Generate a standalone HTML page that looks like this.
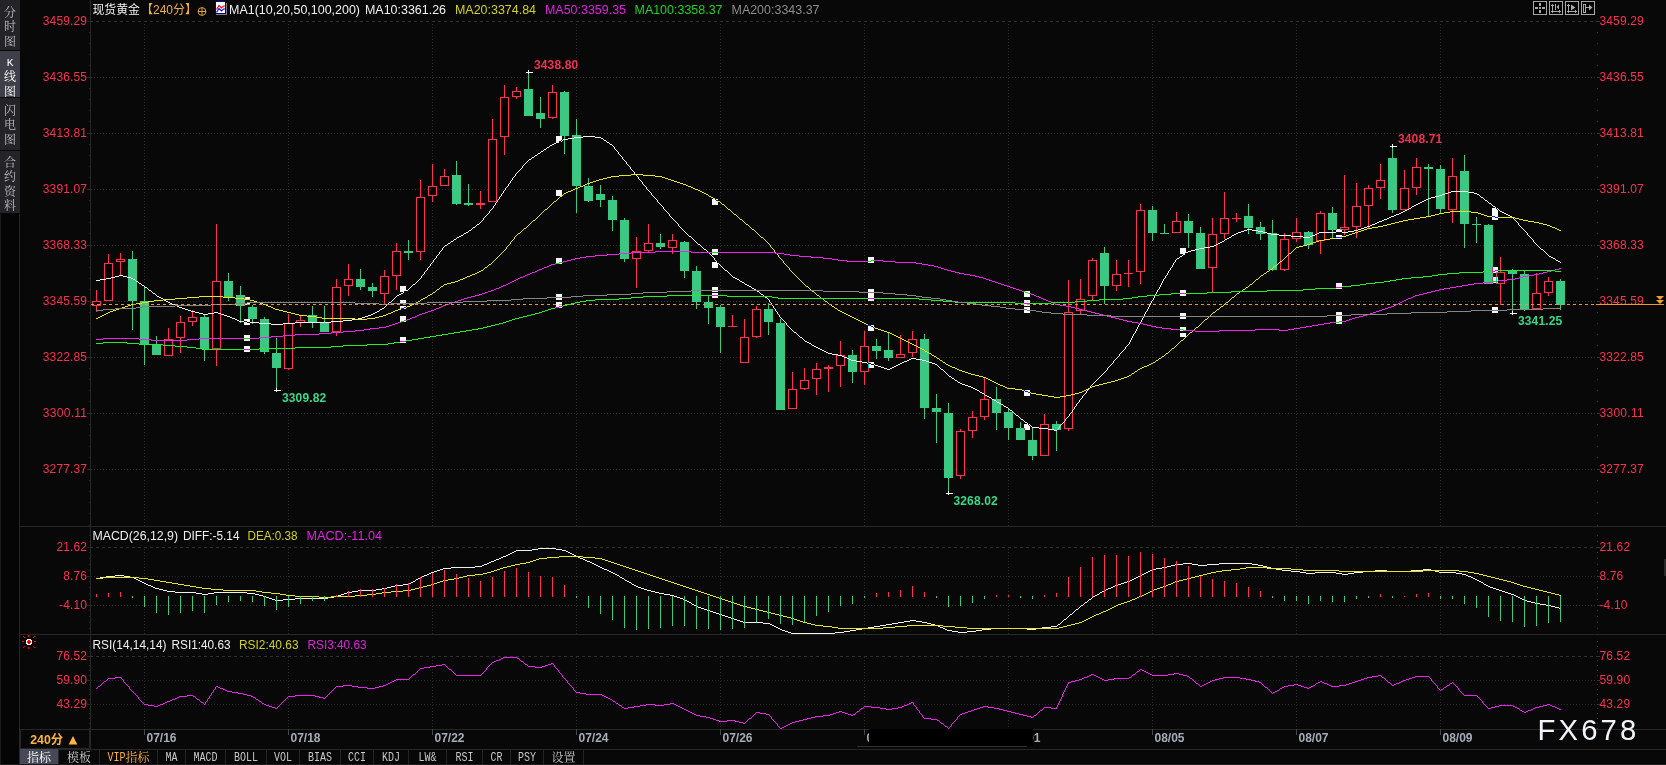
<!DOCTYPE html><html><head><meta charset="utf-8"><title>现货黄金 240分</title><style>
html,body{margin:0;padding:0;background:#080808;}
body{width:1666px;height:765px;overflow:hidden;position:relative;font-family:"Liberation Sans","Noto Sans CJK SC",sans-serif;}
svg{position:absolute;left:0;top:0;}
.ax{font:12px "Liberation Sans",sans-serif;fill:#fa3250;}
.t{font:12px "Liberation Sans","Noto Sans CJK SC",sans-serif;}
.b{font:bold 12px "Liberation Sans","Noto Sans CJK SC",sans-serif;}
.sb{position:absolute;left:0;width:20px;text-align:center;font:12px/14.3px "Liberation Serif","Noto Serif CJK SC",serif;color:#bcbcbc;background:#242428;}
.tb{position:absolute;top:749px;height:15px;font:12px/20px "Liberation Mono","Noto Serif CJK SC",monospace;color:#c8c8c8;text-align:center;white-space:nowrap;border-right:1px solid #242424;box-sizing:border-box;overflow:hidden;}
.tb span{display:inline-block;vertical-align:top;}
.tb .l{font-size:10px;transform:scaleY(1.22);transform-origin:50% 58%;}
</style></head><body>
<div class="sb" style="top:0;height:50px;padding-top:6px;box-sizing:border-box">分<br>时<br>图</div>
<div class="sb" style="top:51px;height:46px;padding-top:4px;box-sizing:border-box;background:#3f3f49;color:#fff"><span style="font:11px/14.3px 'Liberation Mono',monospace">K</span><br>线<br>图</div>
<div class="sb" style="top:98px;height:52px;padding-top:6px;box-sizing:border-box">闪<br>电<br>图</div>
<div class="sb" style="top:151px;height:62px;padding-top:5px;box-sizing:border-box">合<br>约<br>资<br>料</div>
<svg width="1666" height="765" viewBox="0 0 1666 765">
<g shape-rendering="crispEdges" fill="none">
<rect x="0" y="214" width="19" height="551" fill="#050505"/><rect x="0" y="214" width="1" height="551" fill="#1c1c1c"/>
<line x1="19.5" y1="214" x2="19.5" y2="765" stroke="#272727"/>
<line x1="90.5" y1="0" x2="90.5" y2="749" stroke="#272727"/>
<line x1="20" y1="526.5" x2="1666" y2="526.5" stroke="#272727"/>
<line x1="20" y1="634.5" x2="1666" y2="634.5" stroke="#272727"/>
<line x1="20" y1="729.5" x2="1666" y2="729.5" stroke="#272727"/>
<line x1="20" y1="749.5" x2="1666" y2="749.5" stroke="#272727"/>
<line x1="0" y1="764.5" x2="1666" y2="764.5" stroke="#1c1c1c"/>
<line x1="90" y1="21.5" x2="1597" y2="21.5" stroke="#303030" stroke-dasharray="3 3"/>
<line x1="91" y1="77.5" x2="1597" y2="77.5" stroke="#2a2a2a" stroke-dasharray="1 2"/>
<line x1="91" y1="133.5" x2="1597" y2="133.5" stroke="#2a2a2a" stroke-dasharray="1 2"/>
<line x1="91" y1="189.5" x2="1597" y2="189.5" stroke="#2a2a2a" stroke-dasharray="1 2"/>
<line x1="91" y1="245.5" x2="1597" y2="245.5" stroke="#2a2a2a" stroke-dasharray="1 2"/>
<line x1="91" y1="301.5" x2="1597" y2="301.5" stroke="#2a2a2a" stroke-dasharray="1 2"/>
<line x1="91" y1="357.5" x2="1597" y2="357.5" stroke="#2a2a2a" stroke-dasharray="1 2"/>
<line x1="91" y1="413.5" x2="1597" y2="413.5" stroke="#2a2a2a" stroke-dasharray="1 2"/>
<line x1="91" y1="469.5" x2="1597" y2="469.5" stroke="#2a2a2a" stroke-dasharray="1 2"/>
<line x1="90" y1="547.5" x2="1597" y2="547.5" stroke="#303030" stroke-dasharray="3 3"/>
<line x1="91" y1="576.5" x2="1597" y2="576.5" stroke="#2a2a2a" stroke-dasharray="1 2"/>
<line x1="91" y1="605.5" x2="1597" y2="605.5" stroke="#2a2a2a" stroke-dasharray="1 2"/>
<line x1="90" y1="656.5" x2="1597" y2="656.5" stroke="#303030" stroke-dasharray="3 3"/>
<line x1="91" y1="680.5" x2="1597" y2="680.5" stroke="#2a2a2a" stroke-dasharray="1 2"/>
<line x1="91" y1="704.5" x2="1597" y2="704.5" stroke="#2a2a2a" stroke-dasharray="1 2"/>
<line x1="144.5" y1="21" x2="144.5" y2="526" stroke="#2a2a2a" stroke-dasharray="1 2"/>
<line x1="144.5" y1="549" x2="144.5" y2="634" stroke="#2a2a2a" stroke-dasharray="1 2"/>
<line x1="144.5" y1="657" x2="144.5" y2="729" stroke="#2a2a2a" stroke-dasharray="1 2"/>
<line x1="144.5" y1="729" x2="144.5" y2="735" stroke="#444"/>
<line x1="288.5" y1="21" x2="288.5" y2="526" stroke="#2a2a2a" stroke-dasharray="1 2"/>
<line x1="288.5" y1="549" x2="288.5" y2="634" stroke="#2a2a2a" stroke-dasharray="1 2"/>
<line x1="288.5" y1="657" x2="288.5" y2="729" stroke="#2a2a2a" stroke-dasharray="1 2"/>
<line x1="288.5" y1="729" x2="288.5" y2="735" stroke="#444"/>
<line x1="432.5" y1="21" x2="432.5" y2="526" stroke="#2a2a2a" stroke-dasharray="1 2"/>
<line x1="432.5" y1="549" x2="432.5" y2="634" stroke="#2a2a2a" stroke-dasharray="1 2"/>
<line x1="432.5" y1="657" x2="432.5" y2="729" stroke="#2a2a2a" stroke-dasharray="1 2"/>
<line x1="432.5" y1="729" x2="432.5" y2="735" stroke="#444"/>
<line x1="576.5" y1="21" x2="576.5" y2="526" stroke="#2a2a2a" stroke-dasharray="1 2"/>
<line x1="576.5" y1="549" x2="576.5" y2="634" stroke="#2a2a2a" stroke-dasharray="1 2"/>
<line x1="576.5" y1="657" x2="576.5" y2="729" stroke="#2a2a2a" stroke-dasharray="1 2"/>
<line x1="576.5" y1="729" x2="576.5" y2="735" stroke="#444"/>
<line x1="720.5" y1="21" x2="720.5" y2="526" stroke="#2a2a2a" stroke-dasharray="1 2"/>
<line x1="720.5" y1="549" x2="720.5" y2="634" stroke="#2a2a2a" stroke-dasharray="1 2"/>
<line x1="720.5" y1="657" x2="720.5" y2="729" stroke="#2a2a2a" stroke-dasharray="1 2"/>
<line x1="720.5" y1="729" x2="720.5" y2="735" stroke="#444"/>
<line x1="864.5" y1="21" x2="864.5" y2="526" stroke="#2a2a2a" stroke-dasharray="1 2"/>
<line x1="864.5" y1="549" x2="864.5" y2="634" stroke="#2a2a2a" stroke-dasharray="1 2"/>
<line x1="864.5" y1="657" x2="864.5" y2="729" stroke="#2a2a2a" stroke-dasharray="1 2"/>
<line x1="864.5" y1="729" x2="864.5" y2="735" stroke="#444"/>
<line x1="1008.5" y1="21" x2="1008.5" y2="526" stroke="#2a2a2a" stroke-dasharray="1 2"/>
<line x1="1008.5" y1="549" x2="1008.5" y2="634" stroke="#2a2a2a" stroke-dasharray="1 2"/>
<line x1="1008.5" y1="657" x2="1008.5" y2="729" stroke="#2a2a2a" stroke-dasharray="1 2"/>
<line x1="1008.5" y1="729" x2="1008.5" y2="735" stroke="#444"/>
<line x1="1152.5" y1="21" x2="1152.5" y2="526" stroke="#2a2a2a" stroke-dasharray="1 2"/>
<line x1="1152.5" y1="549" x2="1152.5" y2="634" stroke="#2a2a2a" stroke-dasharray="1 2"/>
<line x1="1152.5" y1="657" x2="1152.5" y2="729" stroke="#2a2a2a" stroke-dasharray="1 2"/>
<line x1="1152.5" y1="729" x2="1152.5" y2="735" stroke="#444"/>
<line x1="1296.5" y1="21" x2="1296.5" y2="526" stroke="#2a2a2a" stroke-dasharray="1 2"/>
<line x1="1296.5" y1="549" x2="1296.5" y2="634" stroke="#2a2a2a" stroke-dasharray="1 2"/>
<line x1="1296.5" y1="657" x2="1296.5" y2="729" stroke="#2a2a2a" stroke-dasharray="1 2"/>
<line x1="1296.5" y1="729" x2="1296.5" y2="735" stroke="#444"/>
<line x1="1440.5" y1="21" x2="1440.5" y2="526" stroke="#2a2a2a" stroke-dasharray="1 2"/>
<line x1="1440.5" y1="549" x2="1440.5" y2="634" stroke="#2a2a2a" stroke-dasharray="1 2"/>
<line x1="1440.5" y1="657" x2="1440.5" y2="729" stroke="#2a2a2a" stroke-dasharray="1 2"/>
<line x1="1440.5" y1="729" x2="1440.5" y2="735" stroke="#444"/>
<rect x="89" y="32" width="1" height="1" fill="#272727"/>
<rect x="1597" y="32" width="1" height="1" fill="#343434"/>
<rect x="89" y="43" width="1" height="1" fill="#272727"/>
<rect x="1597" y="43" width="1" height="1" fill="#343434"/>
<rect x="89" y="54" width="1" height="1" fill="#272727"/>
<rect x="1597" y="54" width="1" height="1" fill="#343434"/>
<rect x="89" y="65" width="1" height="1" fill="#272727"/>
<rect x="1597" y="65" width="1" height="1" fill="#343434"/>
<rect x="89" y="88" width="1" height="1" fill="#272727"/>
<rect x="1597" y="88" width="1" height="1" fill="#343434"/>
<rect x="89" y="99" width="1" height="1" fill="#272727"/>
<rect x="1597" y="99" width="1" height="1" fill="#343434"/>
<rect x="89" y="110" width="1" height="1" fill="#272727"/>
<rect x="1597" y="110" width="1" height="1" fill="#343434"/>
<rect x="89" y="121" width="1" height="1" fill="#272727"/>
<rect x="1597" y="121" width="1" height="1" fill="#343434"/>
<rect x="89" y="144" width="1" height="1" fill="#272727"/>
<rect x="1597" y="144" width="1" height="1" fill="#343434"/>
<rect x="89" y="155" width="1" height="1" fill="#272727"/>
<rect x="1597" y="155" width="1" height="1" fill="#343434"/>
<rect x="89" y="166" width="1" height="1" fill="#272727"/>
<rect x="1597" y="166" width="1" height="1" fill="#343434"/>
<rect x="89" y="177" width="1" height="1" fill="#272727"/>
<rect x="1597" y="177" width="1" height="1" fill="#343434"/>
<rect x="89" y="200" width="1" height="1" fill="#272727"/>
<rect x="1597" y="200" width="1" height="1" fill="#343434"/>
<rect x="89" y="211" width="1" height="1" fill="#272727"/>
<rect x="1597" y="211" width="1" height="1" fill="#343434"/>
<rect x="89" y="222" width="1" height="1" fill="#272727"/>
<rect x="1597" y="222" width="1" height="1" fill="#343434"/>
<rect x="89" y="233" width="1" height="1" fill="#272727"/>
<rect x="1597" y="233" width="1" height="1" fill="#343434"/>
<rect x="89" y="256" width="1" height="1" fill="#272727"/>
<rect x="1597" y="256" width="1" height="1" fill="#343434"/>
<rect x="89" y="267" width="1" height="1" fill="#272727"/>
<rect x="1597" y="267" width="1" height="1" fill="#343434"/>
<rect x="89" y="278" width="1" height="1" fill="#272727"/>
<rect x="1597" y="278" width="1" height="1" fill="#343434"/>
<rect x="89" y="289" width="1" height="1" fill="#272727"/>
<rect x="1597" y="289" width="1" height="1" fill="#343434"/>
<rect x="89" y="312" width="1" height="1" fill="#272727"/>
<rect x="1597" y="312" width="1" height="1" fill="#343434"/>
<rect x="89" y="323" width="1" height="1" fill="#272727"/>
<rect x="1597" y="323" width="1" height="1" fill="#343434"/>
<rect x="89" y="334" width="1" height="1" fill="#272727"/>
<rect x="1597" y="334" width="1" height="1" fill="#343434"/>
<rect x="89" y="345" width="1" height="1" fill="#272727"/>
<rect x="1597" y="345" width="1" height="1" fill="#343434"/>
<rect x="89" y="368" width="1" height="1" fill="#272727"/>
<rect x="1597" y="368" width="1" height="1" fill="#343434"/>
<rect x="89" y="379" width="1" height="1" fill="#272727"/>
<rect x="1597" y="379" width="1" height="1" fill="#343434"/>
<rect x="89" y="390" width="1" height="1" fill="#272727"/>
<rect x="1597" y="390" width="1" height="1" fill="#343434"/>
<rect x="89" y="401" width="1" height="1" fill="#272727"/>
<rect x="1597" y="401" width="1" height="1" fill="#343434"/>
<rect x="89" y="424" width="1" height="1" fill="#272727"/>
<rect x="1597" y="424" width="1" height="1" fill="#343434"/>
<rect x="89" y="435" width="1" height="1" fill="#272727"/>
<rect x="1597" y="435" width="1" height="1" fill="#343434"/>
<rect x="89" y="446" width="1" height="1" fill="#272727"/>
<rect x="1597" y="446" width="1" height="1" fill="#343434"/>
<rect x="89" y="457" width="1" height="1" fill="#272727"/>
<rect x="1597" y="457" width="1" height="1" fill="#343434"/>
<rect x="89" y="480" width="1" height="1" fill="#272727"/>
<rect x="1597" y="480" width="1" height="1" fill="#343434"/>
<rect x="89" y="491" width="1" height="1" fill="#272727"/>
<rect x="1597" y="491" width="1" height="1" fill="#343434"/>
<rect x="89" y="502" width="1" height="1" fill="#272727"/>
<rect x="1597" y="502" width="1" height="1" fill="#343434"/>
<rect x="89" y="513" width="1" height="1" fill="#272727"/>
<rect x="1597" y="513" width="1" height="1" fill="#343434"/>
<rect x="89" y="525" width="1" height="1" fill="#272727"/>
<rect x="1597" y="525" width="1" height="1" fill="#343434"/>
<rect x="87" y="21" width="3" height="1" fill="#272727"/>
<rect x="1597" y="21" width="3" height="1" fill="#343434"/>
<rect x="87" y="77" width="3" height="1" fill="#272727"/>
<rect x="1597" y="77" width="3" height="1" fill="#343434"/>
<rect x="87" y="133" width="3" height="1" fill="#272727"/>
<rect x="1597" y="133" width="3" height="1" fill="#343434"/>
<rect x="87" y="189" width="3" height="1" fill="#272727"/>
<rect x="1597" y="189" width="3" height="1" fill="#343434"/>
<rect x="87" y="245" width="3" height="1" fill="#272727"/>
<rect x="1597" y="245" width="3" height="1" fill="#343434"/>
<rect x="87" y="301" width="3" height="1" fill="#272727"/>
<rect x="1597" y="301" width="3" height="1" fill="#343434"/>
<rect x="87" y="357" width="3" height="1" fill="#272727"/>
<rect x="1597" y="357" width="3" height="1" fill="#343434"/>
<rect x="87" y="413" width="3" height="1" fill="#272727"/>
<rect x="1597" y="413" width="3" height="1" fill="#343434"/>
<rect x="87" y="469" width="3" height="1" fill="#272727"/>
<rect x="1597" y="469" width="3" height="1" fill="#343434"/>
<rect x="89" y="535" width="1" height="1" fill="#272727"/>
<rect x="1597" y="535" width="1" height="1" fill="#343434"/>
<rect x="89" y="541" width="1" height="1" fill="#272727"/>
<rect x="1597" y="541" width="1" height="1" fill="#343434"/>
<rect x="89" y="552" width="1" height="1" fill="#272727"/>
<rect x="1597" y="552" width="1" height="1" fill="#343434"/>
<rect x="89" y="558" width="1" height="1" fill="#272727"/>
<rect x="1597" y="558" width="1" height="1" fill="#343434"/>
<rect x="89" y="564" width="1" height="1" fill="#272727"/>
<rect x="1597" y="564" width="1" height="1" fill="#343434"/>
<rect x="89" y="570" width="1" height="1" fill="#272727"/>
<rect x="1597" y="570" width="1" height="1" fill="#343434"/>
<rect x="89" y="581" width="1" height="1" fill="#272727"/>
<rect x="1597" y="581" width="1" height="1" fill="#343434"/>
<rect x="89" y="587" width="1" height="1" fill="#272727"/>
<rect x="1597" y="587" width="1" height="1" fill="#343434"/>
<rect x="89" y="593" width="1" height="1" fill="#272727"/>
<rect x="1597" y="593" width="1" height="1" fill="#343434"/>
<rect x="89" y="599" width="1" height="1" fill="#272727"/>
<rect x="1597" y="599" width="1" height="1" fill="#343434"/>
<rect x="89" y="610" width="1" height="1" fill="#272727"/>
<rect x="1597" y="610" width="1" height="1" fill="#343434"/>
<rect x="89" y="616" width="1" height="1" fill="#272727"/>
<rect x="1597" y="616" width="1" height="1" fill="#343434"/>
<rect x="89" y="622" width="1" height="1" fill="#272727"/>
<rect x="1597" y="622" width="1" height="1" fill="#343434"/>
<rect x="89" y="628" width="1" height="1" fill="#272727"/>
<rect x="1597" y="628" width="1" height="1" fill="#343434"/>
<rect x="89" y="634" width="1" height="1" fill="#272727"/>
<rect x="1597" y="634" width="1" height="1" fill="#343434"/>
<rect x="87" y="547" width="3" height="1" fill="#272727"/>
<rect x="1597" y="547" width="3" height="1" fill="#343434"/>
<rect x="87" y="576" width="3" height="1" fill="#272727"/>
<rect x="1597" y="576" width="3" height="1" fill="#343434"/>
<rect x="87" y="605" width="3" height="1" fill="#272727"/>
<rect x="1597" y="605" width="3" height="1" fill="#343434"/>
<rect x="89" y="641" width="1" height="1" fill="#272727"/>
<rect x="1597" y="641" width="1" height="1" fill="#343434"/>
<rect x="89" y="646" width="1" height="1" fill="#272727"/>
<rect x="1597" y="646" width="1" height="1" fill="#343434"/>
<rect x="89" y="651" width="1" height="1" fill="#272727"/>
<rect x="1597" y="651" width="1" height="1" fill="#343434"/>
<rect x="89" y="660" width="1" height="1" fill="#272727"/>
<rect x="1597" y="660" width="1" height="1" fill="#343434"/>
<rect x="89" y="665" width="1" height="1" fill="#272727"/>
<rect x="1597" y="665" width="1" height="1" fill="#343434"/>
<rect x="89" y="670" width="1" height="1" fill="#272727"/>
<rect x="1597" y="670" width="1" height="1" fill="#343434"/>
<rect x="89" y="675" width="1" height="1" fill="#272727"/>
<rect x="1597" y="675" width="1" height="1" fill="#343434"/>
<rect x="89" y="684" width="1" height="1" fill="#272727"/>
<rect x="1597" y="684" width="1" height="1" fill="#343434"/>
<rect x="89" y="689" width="1" height="1" fill="#272727"/>
<rect x="1597" y="689" width="1" height="1" fill="#343434"/>
<rect x="89" y="694" width="1" height="1" fill="#272727"/>
<rect x="1597" y="694" width="1" height="1" fill="#343434"/>
<rect x="89" y="699" width="1" height="1" fill="#272727"/>
<rect x="1597" y="699" width="1" height="1" fill="#343434"/>
<rect x="89" y="708" width="1" height="1" fill="#272727"/>
<rect x="1597" y="708" width="1" height="1" fill="#343434"/>
<rect x="89" y="713" width="1" height="1" fill="#272727"/>
<rect x="1597" y="713" width="1" height="1" fill="#343434"/>
<rect x="89" y="718" width="1" height="1" fill="#272727"/>
<rect x="1597" y="718" width="1" height="1" fill="#343434"/>
<rect x="89" y="723" width="1" height="1" fill="#272727"/>
<rect x="1597" y="723" width="1" height="1" fill="#343434"/>
<rect x="89" y="728" width="1" height="1" fill="#272727"/>
<rect x="1597" y="728" width="1" height="1" fill="#343434"/>
<rect x="87" y="656" width="3" height="1" fill="#272727"/>
<rect x="1597" y="656" width="3" height="1" fill="#343434"/>
<rect x="87" y="680" width="3" height="1" fill="#272727"/>
<rect x="1597" y="680" width="3" height="1" fill="#343434"/>
<rect x="87" y="704" width="3" height="1" fill="#272727"/>
<rect x="1597" y="704" width="3" height="1" fill="#343434"/>
</g>
<text class="ax" x="87" y="24.7" text-anchor="end" textLength="44.2">3459.29</text>
<text class="ax" x="1599.5" y="24.7" textLength="44.2">3459.29</text>
<text class="ax" x="87" y="80.7" text-anchor="end" textLength="44.2">3436.55</text>
<text class="ax" x="1599.5" y="80.7" textLength="44.2">3436.55</text>
<text class="ax" x="87" y="136.7" text-anchor="end" textLength="44.2">3413.81</text>
<text class="ax" x="1599.5" y="136.7" textLength="44.2">3413.81</text>
<text class="ax" x="87" y="192.7" text-anchor="end" textLength="44.2">3391.07</text>
<text class="ax" x="1599.5" y="192.7" textLength="44.2">3391.07</text>
<text class="ax" x="87" y="248.7" text-anchor="end" textLength="44.2">3368.33</text>
<text class="ax" x="1599.5" y="248.7" textLength="44.2">3368.33</text>
<text class="ax" x="87" y="304.7" text-anchor="end" textLength="44.2">3345.59</text>
<text class="ax" x="1599.5" y="304.7" textLength="44.2">3345.59</text>
<text class="ax" x="87" y="360.7" text-anchor="end" textLength="44.2">3322.85</text>
<text class="ax" x="1599.5" y="360.7" textLength="44.2">3322.85</text>
<text class="ax" x="87" y="416.7" text-anchor="end" textLength="44.2">3300.11</text>
<text class="ax" x="1599.5" y="416.7" textLength="44.2">3300.11</text>
<text class="ax" x="87" y="472.7" text-anchor="end" textLength="44.2">3277.37</text>
<text class="ax" x="1599.5" y="472.7" textLength="44.2">3277.37</text>
<text class="ax" x="87" y="550.7" text-anchor="end" textLength="30.6">21.62</text>
<text class="ax" x="1599.5" y="550.7" textLength="30.6">21.62</text>
<text class="ax" x="87" y="579.7" text-anchor="end" textLength="23.8">8.76</text>
<text class="ax" x="1599.5" y="579.7" textLength="23.8">8.76</text>
<text class="ax" x="87" y="608.7" text-anchor="end" textLength="27.9">-4.10</text>
<text class="ax" x="1599.5" y="608.7" textLength="27.9">-4.10</text>
<text class="ax" x="87" y="659.7" text-anchor="end" textLength="30.6">76.52</text>
<text class="ax" x="1599.5" y="659.7" textLength="30.6">76.52</text>
<text class="ax" x="87" y="683.7" text-anchor="end" textLength="30.6">59.90</text>
<text class="ax" x="1599.5" y="683.7" textLength="30.6">59.90</text>
<text class="ax" x="87" y="707.7" text-anchor="end" textLength="30.6">43.29</text>
<text class="ax" x="1599.5" y="707.7" textLength="30.6">43.29</text>
<g shape-rendering="crispEdges">
<rect x="96" y="290" width="1" height="11" fill="#ff3250"/>
<rect x="96" y="306" width="1" height="6" fill="#ff3250"/>
<rect x="92.5" y="301.5" width="8" height="4" fill="#000" stroke="#ff3250"/>
<rect x="108" y="254" width="1" height="9" fill="#ff3250"/>
<rect x="104.5" y="263.5" width="8" height="37" fill="#000" stroke="#ff3250"/>
<rect x="120" y="253" width="1" height="6" fill="#ff3250"/>
<rect x="120" y="262" width="1" height="13" fill="#ff3250"/>
<rect x="116.5" y="259.5" width="8" height="2" fill="#000" stroke="#ff3250"/>
<rect x="132" y="251" width="1" height="79" fill="#3ac882"/>
<rect x="128" y="259" width="9" height="42" fill="#3ac882"/>
<rect x="144" y="287" width="1" height="78" fill="#3ac882"/>
<rect x="140" y="301" width="9" height="44" fill="#3ac882"/>
<rect x="156" y="336" width="1" height="19" fill="#3ac882"/>
<rect x="152" y="345" width="9" height="10" fill="#3ac882"/>
<rect x="168" y="328" width="1" height="11" fill="#ff3250"/>
<rect x="164.5" y="339.5" width="8" height="16" fill="#000" stroke="#ff3250"/>
<rect x="180" y="316" width="1" height="6" fill="#ff3250"/>
<rect x="180" y="338" width="1" height="15" fill="#ff3250"/>
<rect x="176.5" y="322.5" width="8" height="15" fill="#000" stroke="#ff3250"/>
<rect x="192" y="310" width="1" height="7" fill="#ff3250"/>
<rect x="192" y="322" width="1" height="4" fill="#ff3250"/>
<rect x="188.5" y="317.5" width="8" height="4" fill="#000" stroke="#ff3250"/>
<rect x="204" y="314" width="1" height="47" fill="#3ac882"/>
<rect x="200" y="317" width="9" height="32" fill="#3ac882"/>
<rect x="216" y="224" width="1" height="57" fill="#ff3250"/>
<rect x="216" y="349" width="1" height="17" fill="#ff3250"/>
<rect x="212.5" y="281.5" width="8" height="67" fill="#000" stroke="#ff3250"/>
<rect x="228" y="273" width="1" height="28" fill="#3ac882"/>
<rect x="224" y="281" width="9" height="17" fill="#3ac882"/>
<rect x="240" y="286" width="1" height="37" fill="#3ac882"/>
<rect x="236" y="295" width="9" height="11" fill="#3ac882"/>
<rect x="252" y="305" width="1" height="19" fill="#3ac882"/>
<rect x="248" y="307" width="9" height="12" fill="#3ac882"/>
<rect x="264" y="317" width="1" height="37" fill="#3ac882"/>
<rect x="260" y="319" width="9" height="33" fill="#3ac882"/>
<rect x="276" y="338" width="1" height="52" fill="#3ac882"/>
<rect x="272" y="353" width="9" height="15" fill="#3ac882"/>
<rect x="288" y="314" width="1" height="9" fill="#ff3250"/>
<rect x="288" y="369" width="1" height="1" fill="#ff3250"/>
<rect x="284.5" y="323.5" width="8" height="45" fill="#000" stroke="#ff3250"/>
<rect x="300" y="315" width="1" height="5" fill="#ff3250"/>
<rect x="300" y="323" width="1" height="4" fill="#ff3250"/>
<rect x="296.5" y="320.5" width="8" height="2" fill="#000" stroke="#ff3250"/>
<rect x="312" y="306" width="1" height="22" fill="#3ac882"/>
<rect x="308" y="315" width="9" height="8" fill="#3ac882"/>
<rect x="324" y="306" width="1" height="26" fill="#3ac882"/>
<rect x="320" y="323" width="9" height="9" fill="#3ac882"/>
<rect x="336" y="279" width="1" height="8" fill="#ff3250"/>
<rect x="336" y="332" width="1" height="4" fill="#ff3250"/>
<rect x="332.5" y="287.5" width="8" height="44" fill="#000" stroke="#ff3250"/>
<rect x="348" y="264" width="1" height="15" fill="#ff3250"/>
<rect x="348" y="286" width="1" height="10" fill="#ff3250"/>
<rect x="344.5" y="279.5" width="8" height="6" fill="#000" stroke="#ff3250"/>
<rect x="360" y="269" width="1" height="21" fill="#3ac882"/>
<rect x="356" y="279" width="9" height="8" fill="#3ac882"/>
<rect x="372" y="283" width="1" height="14" fill="#3ac882"/>
<rect x="368" y="287" width="9" height="4" fill="#3ac882"/>
<rect x="384" y="270" width="1" height="6" fill="#ff3250"/>
<rect x="384" y="294" width="1" height="10" fill="#ff3250"/>
<rect x="380.5" y="276.5" width="8" height="17" fill="#000" stroke="#ff3250"/>
<rect x="396" y="243" width="1" height="8" fill="#ff3250"/>
<rect x="396" y="276" width="1" height="14" fill="#ff3250"/>
<rect x="392.5" y="251.5" width="8" height="24" fill="#000" stroke="#ff3250"/>
<rect x="408" y="240" width="1" height="20" fill="#3ac882"/>
<rect x="404" y="251" width="9" height="2" fill="#3ac882"/>
<rect x="420" y="180" width="1" height="17" fill="#ff3250"/>
<rect x="420" y="252" width="1" height="8" fill="#ff3250"/>
<rect x="416.5" y="197.5" width="8" height="54" fill="#000" stroke="#ff3250"/>
<rect x="432" y="164" width="1" height="22" fill="#ff3250"/>
<rect x="432" y="196" width="1" height="6" fill="#ff3250"/>
<rect x="428.5" y="186.5" width="8" height="9" fill="#000" stroke="#ff3250"/>
<rect x="444" y="169" width="1" height="7" fill="#ff3250"/>
<rect x="440.5" y="176.5" width="8" height="9" fill="#000" stroke="#ff3250"/>
<rect x="456" y="161" width="1" height="44" fill="#3ac882"/>
<rect x="452" y="175" width="9" height="29" fill="#3ac882"/>
<rect x="468" y="184" width="1" height="22" fill="#3ac882"/>
<rect x="464" y="203" width="9" height="2" fill="#3ac882"/>
<rect x="480" y="191" width="1" height="12" fill="#ff3250"/>
<rect x="480" y="205" width="1" height="4" fill="#ff3250"/>
<rect x="476" y="203" width="9" height="2" fill="#ff3250"/>
<rect x="492" y="119" width="1" height="20" fill="#ff3250"/>
<rect x="488.5" y="139.5" width="8" height="62" fill="#000" stroke="#ff3250"/>
<rect x="504" y="85" width="1" height="12" fill="#ff3250"/>
<rect x="504" y="137" width="1" height="18" fill="#ff3250"/>
<rect x="500.5" y="97.5" width="8" height="39" fill="#000" stroke="#ff3250"/>
<rect x="516" y="87" width="1" height="4" fill="#ff3250"/>
<rect x="516" y="97" width="1" height="2" fill="#ff3250"/>
<rect x="512.5" y="91.5" width="8" height="5" fill="#000" stroke="#ff3250"/>
<rect x="528" y="72" width="1" height="44" fill="#3ac882"/>
<rect x="524" y="89" width="9" height="27" fill="#3ac882"/>
<rect x="540" y="97" width="1" height="31" fill="#3ac882"/>
<rect x="536" y="113" width="9" height="6" fill="#3ac882"/>
<rect x="552" y="85" width="1" height="7" fill="#ff3250"/>
<rect x="552" y="118" width="1" height="1" fill="#ff3250"/>
<rect x="548.5" y="92.5" width="8" height="25" fill="#000" stroke="#ff3250"/>
<rect x="564" y="91" width="1" height="63" fill="#3ac882"/>
<rect x="560" y="92" width="9" height="44" fill="#3ac882"/>
<rect x="576" y="119" width="1" height="94" fill="#3ac882"/>
<rect x="572" y="135" width="9" height="51" fill="#3ac882"/>
<rect x="588" y="178" width="1" height="24" fill="#3ac882"/>
<rect x="584" y="186" width="9" height="15" fill="#3ac882"/>
<rect x="600" y="185" width="1" height="22" fill="#3ac882"/>
<rect x="596" y="194" width="9" height="6" fill="#3ac882"/>
<rect x="612" y="196" width="1" height="35" fill="#3ac882"/>
<rect x="608" y="200" width="9" height="20" fill="#3ac882"/>
<rect x="624" y="218" width="1" height="44" fill="#3ac882"/>
<rect x="620" y="220" width="9" height="39" fill="#3ac882"/>
<rect x="636" y="237" width="1" height="14" fill="#ff3250"/>
<rect x="636" y="259" width="1" height="29" fill="#ff3250"/>
<rect x="632.5" y="251.5" width="8" height="7" fill="#000" stroke="#ff3250"/>
<rect x="648" y="224" width="1" height="19" fill="#ff3250"/>
<rect x="648" y="251" width="1" height="2" fill="#ff3250"/>
<rect x="644.5" y="243.5" width="8" height="7" fill="#000" stroke="#ff3250"/>
<rect x="660" y="234" width="1" height="15" fill="#3ac882"/>
<rect x="656" y="243" width="9" height="4" fill="#3ac882"/>
<rect x="672" y="234" width="1" height="6" fill="#ff3250"/>
<rect x="672" y="248" width="1" height="6" fill="#ff3250"/>
<rect x="668.5" y="240.5" width="8" height="7" fill="#000" stroke="#ff3250"/>
<rect x="684" y="241" width="1" height="37" fill="#3ac882"/>
<rect x="680" y="242" width="9" height="29" fill="#3ac882"/>
<rect x="696" y="266" width="1" height="43" fill="#3ac882"/>
<rect x="692" y="271" width="9" height="31" fill="#3ac882"/>
<rect x="708" y="296" width="1" height="28" fill="#3ac882"/>
<rect x="704" y="302" width="9" height="6" fill="#3ac882"/>
<rect x="720" y="305" width="1" height="48" fill="#3ac882"/>
<rect x="716" y="307" width="9" height="20" fill="#3ac882"/>
<rect x="732" y="315" width="1" height="11" fill="#ff3250"/>
<rect x="728" y="326" width="9" height="1" fill="#ff3250"/>
<rect x="744" y="319" width="1" height="18" fill="#ff3250"/>
<rect x="740.5" y="337.5" width="8" height="25" fill="#000" stroke="#ff3250"/>
<rect x="756" y="306" width="1" height="3" fill="#ff3250"/>
<rect x="756" y="337" width="1" height="1" fill="#ff3250"/>
<rect x="752.5" y="309.5" width="8" height="27" fill="#000" stroke="#ff3250"/>
<rect x="768" y="303" width="1" height="32" fill="#3ac882"/>
<rect x="764" y="309" width="9" height="13" fill="#3ac882"/>
<rect x="780" y="319" width="1" height="91" fill="#3ac882"/>
<rect x="776" y="323" width="9" height="87" fill="#3ac882"/>
<rect x="792" y="372" width="1" height="17" fill="#ff3250"/>
<rect x="788.5" y="389.5" width="8" height="19" fill="#000" stroke="#ff3250"/>
<rect x="804" y="368" width="1" height="12" fill="#ff3250"/>
<rect x="804" y="389" width="1" height="1" fill="#ff3250"/>
<rect x="800.5" y="380.5" width="8" height="8" fill="#000" stroke="#ff3250"/>
<rect x="816" y="363" width="1" height="6" fill="#ff3250"/>
<rect x="816" y="379" width="1" height="16" fill="#ff3250"/>
<rect x="812.5" y="369.5" width="8" height="9" fill="#000" stroke="#ff3250"/>
<rect x="828" y="365" width="1" height="2" fill="#ff3250"/>
<rect x="828" y="369" width="1" height="23" fill="#ff3250"/>
<rect x="824" y="367" width="9" height="2" fill="#ff3250"/>
<rect x="840" y="341" width="1" height="14" fill="#ff3250"/>
<rect x="840" y="366" width="1" height="21" fill="#ff3250"/>
<rect x="836.5" y="355.5" width="8" height="10" fill="#000" stroke="#ff3250"/>
<rect x="852" y="350" width="1" height="33" fill="#3ac882"/>
<rect x="848" y="355" width="9" height="17" fill="#3ac882"/>
<rect x="864" y="331" width="1" height="15" fill="#ff3250"/>
<rect x="864" y="372" width="1" height="13" fill="#ff3250"/>
<rect x="860.5" y="346.5" width="8" height="25" fill="#000" stroke="#ff3250"/>
<rect x="876" y="339" width="1" height="20" fill="#3ac882"/>
<rect x="872" y="346" width="9" height="5" fill="#3ac882"/>
<rect x="888" y="332" width="1" height="29" fill="#3ac882"/>
<rect x="884" y="350" width="9" height="8" fill="#3ac882"/>
<rect x="900" y="335" width="1" height="19" fill="#ff3250"/>
<rect x="896.5" y="354.5" width="8" height="3" fill="#000" stroke="#ff3250"/>
<rect x="912" y="331" width="1" height="8" fill="#ff3250"/>
<rect x="912" y="353" width="1" height="4" fill="#ff3250"/>
<rect x="908.5" y="339.5" width="8" height="13" fill="#000" stroke="#ff3250"/>
<rect x="924" y="334" width="1" height="85" fill="#3ac882"/>
<rect x="920" y="339" width="9" height="69" fill="#3ac882"/>
<rect x="936" y="394" width="1" height="49" fill="#3ac882"/>
<rect x="932" y="408" width="9" height="4" fill="#3ac882"/>
<rect x="948" y="403" width="1" height="90" fill="#3ac882"/>
<rect x="944" y="413" width="9" height="65" fill="#3ac882"/>
<rect x="960" y="429" width="1" height="2" fill="#ff3250"/>
<rect x="960" y="476" width="1" height="3" fill="#ff3250"/>
<rect x="956.5" y="431.5" width="8" height="44" fill="#000" stroke="#ff3250"/>
<rect x="972" y="411" width="1" height="6" fill="#ff3250"/>
<rect x="972" y="431" width="1" height="7" fill="#ff3250"/>
<rect x="968.5" y="417.5" width="8" height="13" fill="#000" stroke="#ff3250"/>
<rect x="984" y="378" width="1" height="21" fill="#ff3250"/>
<rect x="984" y="417" width="1" height="3" fill="#ff3250"/>
<rect x="980.5" y="399.5" width="8" height="17" fill="#000" stroke="#ff3250"/>
<rect x="996" y="387" width="1" height="43" fill="#3ac882"/>
<rect x="992" y="399" width="9" height="14" fill="#3ac882"/>
<rect x="1008" y="408" width="1" height="32" fill="#3ac882"/>
<rect x="1004" y="412" width="9" height="16" fill="#3ac882"/>
<rect x="1020" y="422" width="1" height="18" fill="#3ac882"/>
<rect x="1016" y="428" width="9" height="12" fill="#3ac882"/>
<rect x="1032" y="428" width="1" height="32" fill="#3ac882"/>
<rect x="1028" y="440" width="9" height="16" fill="#3ac882"/>
<rect x="1044" y="414" width="1" height="10" fill="#ff3250"/>
<rect x="1040.5" y="424.5" width="8" height="31" fill="#000" stroke="#ff3250"/>
<rect x="1056" y="421" width="1" height="30" fill="#3ac882"/>
<rect x="1052" y="424" width="9" height="6" fill="#3ac882"/>
<rect x="1068" y="280" width="1" height="32" fill="#ff3250"/>
<rect x="1068" y="429" width="1" height="2" fill="#ff3250"/>
<rect x="1064.5" y="312.5" width="8" height="116" fill="#000" stroke="#ff3250"/>
<rect x="1080" y="279" width="1" height="20" fill="#ff3250"/>
<rect x="1080" y="311" width="1" height="3" fill="#ff3250"/>
<rect x="1076.5" y="299.5" width="8" height="11" fill="#000" stroke="#ff3250"/>
<rect x="1092" y="258" width="1" height="2" fill="#ff3250"/>
<rect x="1092" y="296" width="1" height="5" fill="#ff3250"/>
<rect x="1088.5" y="260.5" width="8" height="35" fill="#000" stroke="#ff3250"/>
<rect x="1104" y="247" width="1" height="57" fill="#3ac882"/>
<rect x="1100" y="253" width="9" height="33" fill="#3ac882"/>
<rect x="1116" y="260" width="1" height="14" fill="#ff3250"/>
<rect x="1116" y="286" width="1" height="5" fill="#ff3250"/>
<rect x="1112.5" y="274.5" width="8" height="11" fill="#000" stroke="#ff3250"/>
<rect x="1128" y="260" width="1" height="13" fill="#ff3250"/>
<rect x="1128" y="274" width="1" height="13" fill="#ff3250"/>
<rect x="1124" y="273" width="9" height="1" fill="#ff3250"/>
<rect x="1140" y="204" width="1" height="6" fill="#ff3250"/>
<rect x="1140" y="272" width="1" height="12" fill="#ff3250"/>
<rect x="1136.5" y="210.5" width="8" height="61" fill="#000" stroke="#ff3250"/>
<rect x="1152" y="206" width="1" height="35" fill="#3ac882"/>
<rect x="1148" y="210" width="9" height="23" fill="#3ac882"/>
<rect x="1164" y="224" width="1" height="10" fill="#3ac882"/>
<rect x="1160" y="233" width="9" height="1" fill="#3ac882"/>
<rect x="1176" y="212" width="1" height="9" fill="#ff3250"/>
<rect x="1172.5" y="221.5" width="8" height="11" fill="#000" stroke="#ff3250"/>
<rect x="1188" y="214" width="1" height="34" fill="#3ac882"/>
<rect x="1184" y="221" width="9" height="12" fill="#3ac882"/>
<rect x="1200" y="227" width="1" height="42" fill="#3ac882"/>
<rect x="1196" y="233" width="9" height="36" fill="#3ac882"/>
<rect x="1212" y="218" width="1" height="16" fill="#ff3250"/>
<rect x="1212" y="268" width="1" height="24" fill="#ff3250"/>
<rect x="1208.5" y="234.5" width="8" height="33" fill="#000" stroke="#ff3250"/>
<rect x="1224" y="192" width="1" height="26" fill="#ff3250"/>
<rect x="1224" y="234" width="1" height="5" fill="#ff3250"/>
<rect x="1220.5" y="218.5" width="8" height="15" fill="#000" stroke="#ff3250"/>
<rect x="1236" y="213" width="1" height="5" fill="#ff3250"/>
<rect x="1236" y="219" width="1" height="3" fill="#ff3250"/>
<rect x="1232" y="218" width="9" height="1" fill="#ff3250"/>
<rect x="1248" y="204" width="1" height="30" fill="#3ac882"/>
<rect x="1244" y="216" width="9" height="12" fill="#3ac882"/>
<rect x="1260" y="222" width="1" height="18" fill="#3ac882"/>
<rect x="1256" y="227" width="9" height="7" fill="#3ac882"/>
<rect x="1272" y="220" width="1" height="51" fill="#3ac882"/>
<rect x="1268" y="233" width="9" height="37" fill="#3ac882"/>
<rect x="1284" y="233" width="1" height="6" fill="#ff3250"/>
<rect x="1284" y="270" width="1" height="1" fill="#ff3250"/>
<rect x="1280.5" y="239.5" width="8" height="30" fill="#000" stroke="#ff3250"/>
<rect x="1296" y="218" width="1" height="14" fill="#ff3250"/>
<rect x="1296" y="239" width="1" height="3" fill="#ff3250"/>
<rect x="1292.5" y="232.5" width="8" height="6" fill="#000" stroke="#ff3250"/>
<rect x="1308" y="231" width="1" height="18" fill="#3ac882"/>
<rect x="1304" y="232" width="9" height="13" fill="#3ac882"/>
<rect x="1320" y="211" width="1" height="2" fill="#ff3250"/>
<rect x="1320" y="241" width="1" height="13" fill="#ff3250"/>
<rect x="1316.5" y="213.5" width="8" height="27" fill="#000" stroke="#ff3250"/>
<rect x="1332" y="207" width="1" height="31" fill="#3ac882"/>
<rect x="1328" y="213" width="9" height="17" fill="#3ac882"/>
<rect x="1344" y="175" width="1" height="52" fill="#ff3250"/>
<rect x="1344" y="230" width="1" height="5" fill="#ff3250"/>
<rect x="1340.5" y="227.5" width="8" height="2" fill="#000" stroke="#ff3250"/>
<rect x="1356" y="183" width="1" height="23" fill="#ff3250"/>
<rect x="1356" y="227" width="1" height="11" fill="#ff3250"/>
<rect x="1352.5" y="206.5" width="8" height="20" fill="#000" stroke="#ff3250"/>
<rect x="1368" y="185" width="1" height="3" fill="#ff3250"/>
<rect x="1368" y="206" width="1" height="22" fill="#ff3250"/>
<rect x="1364.5" y="188.5" width="8" height="17" fill="#000" stroke="#ff3250"/>
<rect x="1380" y="164" width="1" height="16" fill="#ff3250"/>
<rect x="1380" y="188" width="1" height="11" fill="#ff3250"/>
<rect x="1376.5" y="180.5" width="8" height="7" fill="#000" stroke="#ff3250"/>
<rect x="1392" y="146" width="1" height="67" fill="#3ac882"/>
<rect x="1388" y="158" width="9" height="52" fill="#3ac882"/>
<rect x="1404" y="170" width="1" height="18" fill="#ff3250"/>
<rect x="1400.5" y="188.5" width="8" height="21" fill="#000" stroke="#ff3250"/>
<rect x="1416" y="158" width="1" height="9" fill="#ff3250"/>
<rect x="1416" y="188" width="1" height="7" fill="#ff3250"/>
<rect x="1412.5" y="167.5" width="8" height="20" fill="#000" stroke="#ff3250"/>
<rect x="1428" y="164" width="1" height="52" fill="#3ac882"/>
<rect x="1424" y="167" width="9" height="2" fill="#3ac882"/>
<rect x="1440" y="165" width="1" height="48" fill="#3ac882"/>
<rect x="1436" y="169" width="9" height="40" fill="#3ac882"/>
<rect x="1452" y="158" width="1" height="18" fill="#ff3250"/>
<rect x="1452" y="210" width="1" height="13" fill="#ff3250"/>
<rect x="1448.5" y="176.5" width="8" height="33" fill="#000" stroke="#ff3250"/>
<rect x="1464" y="155" width="1" height="93" fill="#3ac882"/>
<rect x="1460" y="171" width="9" height="53" fill="#3ac882"/>
<rect x="1476" y="217" width="1" height="26" fill="#3ac882"/>
<rect x="1472" y="224" width="9" height="1" fill="#3ac882"/>
<rect x="1488" y="224" width="1" height="60" fill="#3ac882"/>
<rect x="1484" y="225" width="9" height="59" fill="#3ac882"/>
<rect x="1500" y="257" width="1" height="15" fill="#ff3250"/>
<rect x="1500" y="284" width="1" height="21" fill="#ff3250"/>
<rect x="1496.5" y="272.5" width="8" height="11" fill="#000" stroke="#ff3250"/>
<rect x="1512" y="269" width="1" height="44" fill="#3ac882"/>
<rect x="1508" y="270" width="9" height="4" fill="#3ac882"/>
<rect x="1524" y="271" width="1" height="40" fill="#3ac882"/>
<rect x="1520" y="274" width="9" height="35" fill="#3ac882"/>
<rect x="1536" y="273" width="1" height="20" fill="#ff3250"/>
<rect x="1536" y="309" width="1" height="1" fill="#ff3250"/>
<rect x="1532.5" y="293.5" width="8" height="15" fill="#000" stroke="#ff3250"/>
<rect x="1548" y="277" width="1" height="4" fill="#ff3250"/>
<rect x="1548" y="293" width="1" height="3" fill="#ff3250"/>
<rect x="1544.5" y="281.5" width="8" height="11" fill="#000" stroke="#ff3250"/>
<rect x="1560" y="279" width="1" height="31" fill="#3ac882"/>
<rect x="1556" y="281" width="9" height="24" fill="#3ac882"/>
</g>
<path d="M96 280.5h4M100 279.5h6M106 278.5h5M111 277.5h4M115 276.5h4M119 275.5h4M123 276.5h4M127 277.5h4M131 278.5h2M133 279.5h2M135 280.5h1M136 281.5h2M138 282.5h1M139 283.5h2M141 284.5h1M142 285.5h2M144 286.5h1M145 287.5h2M147 288.5h1M148 289.5h1M149 290.5h2M151 291.5h1M152 292.5h1M153 293.5h2M155 294.5h1M156 295.5h1M157 296.5h2M159 297.5h2M161 298.5h2M163 299.5h1M164 300.5h2M166 301.5h2M168 302.5h2M170 303.5h2M172 304.5h3M175 305.5h2M177 306.5h2M179 307.5h3M182 308.5h3M185 309.5h3M188 310.5h3M191 311.5h4M195 312.5h4M199 313.5h4M203 314.5h5M208 313.5h6M214 312.5h4M218 313.5h3M221 314.5h3M224 315.5h3M227 316.5h3M230 317.5h2M232 318.5h3M235 319.5h2M237 320.5h2M239 321.5h8M247 322.5h12M259 323.5h12M271 324.5h12M283 323.5h12M295 322.5h36M331 321.5h12M343 320.5h9M352 319.5h6M358 318.5h4M362 317.5h3M365 316.5h3M368 315.5h3M371 314.5h2M373 313.5h2M375 312.5h2M377 311.5h2M379 310.5h1M380 309.5h2M382 308.5h2M384 307.5h1M385 306.5h1M386 305.5h1M387 304.5h1M388 303.5h1M389 302.5h2M391 301.5h1M392 300.5h1M393 299.5h1M394 298.5h1M395 297.5h1M396 296.5h1M397 295.5h2M399 294.5h2M401 293.5h2M403 292.5h1M404 291.5h2M406 290.5h2M408 289.5h1M409 288.5h1M410 287.5h1M411 286.5h1M412 285.5h1M413 284.5h2M415 283.5h1M416 282.5h1M417 281.5h1M418 280.5h1M419 279.5h1M420 278.5h1M421.5 276v2M422 275.5h1M423 274.5h1M424.5 272v2M425 271.5h1M426 270.5h1M427.5 268v2M428 267.5h1M429 266.5h1M430.5 264v2M431 263.5h1M432 262.5h1M433.5 260v2M434 259.5h1M435 258.5h1M436.5 256v2M437 255.5h1M438 254.5h1M439.5 252v2M440 251.5h1M441 250.5h1M442.5 248v2M443 247.5h1M444 246.5h1M445 245.5h2M447 244.5h1M448 243.5h2M450 242.5h1M451 241.5h2M453 240.5h1M454 239.5h2M456 238.5h1M457 237.5h2M459 236.5h2M461 235.5h2M463 234.5h1M464 233.5h2M466 232.5h2M468 231.5h1M469 230.5h2M471 229.5h1M472 228.5h1M473 227.5h2M475 226.5h1M476 225.5h1M477 224.5h2M479 223.5h1M480 222.5h1M481 221.5h1M482 220.5h1M483.5 218v2M484 217.5h1M485 216.5h1M486 215.5h1M487 214.5h1M488 213.5h1M489.5 211v2M490 210.5h1M491 209.5h1M492 208.5h1M493.5 206v2M494 205.5h1M495.5 203v2M496 202.5h1M497.5 200v2M498 199.5h1M499.5 197v2M500 196.5h1M501.5 194v2M502 193.5h1M503.5 191v2M504 190.5h1M505.5 188v2M506 187.5h1M507 186.5h1M508.5 184v2M509 183.5h1M510.5 181v2M511 180.5h1M512.5 178v2M513 177.5h1M514 176.5h1M515.5 174v2M516 173.5h1M517 172.5h1M518 171.5h1M519 170.5h1M520 169.5h1M521 168.5h1M522.5 166v2M523 165.5h1M524 164.5h1M525 163.5h1M526 162.5h1M527 161.5h1M528 160.5h1M529 159.5h2M531 158.5h1M532 157.5h2M534 156.5h1M535 155.5h2M537 154.5h1M538 153.5h2M540 152.5h1M541 151.5h2M543 150.5h1M544 149.5h2M546 148.5h1M547 147.5h2M549 146.5h1M550 145.5h2M552 144.5h2M554 143.5h2M556 142.5h3M559 141.5h2M561 140.5h2M563 139.5h5M568 138.5h6M574 137.5h9M583 136.5h12M595 137.5h6M601 138.5h2M603 139.5h1M604 140.5h2M606 141.5h1M607 142.5h2M609 143.5h1M610 144.5h2M612 145.5h1M613 146.5h1M614.5 147v2M615 149.5h1M616 150.5h1M617 151.5h1M618.5 152v2M619 154.5h1M620 155.5h1M621 156.5h1M622.5 157v2M623 159.5h1M624 160.5h1M625 161.5h1M626.5 162v2M627 164.5h1M628 165.5h1M629 166.5h1M630.5 167v2M631 169.5h1M632 170.5h1M633 171.5h1M634.5 172v2M635 174.5h1M636 175.5h1M637 176.5h1M638.5 177v2M639 179.5h1M640 180.5h1M641 181.5h1M642.5 182v2M643 184.5h1M644 185.5h1M645 186.5h1M646.5 187v2M647 189.5h1M648 190.5h1M649 191.5h1M650 192.5h1M651.5 193v2M652 195.5h1M653 196.5h1M654 197.5h1M655 198.5h1M656 199.5h1M657.5 200v2M658 202.5h1M659 203.5h1M660 204.5h1M661 205.5h1M662 206.5h1M663.5 207v2M664 209.5h1M665 210.5h1M666 211.5h1M667 212.5h1M668 213.5h1M669.5 214v2M670 216.5h1M671 217.5h1M672 218.5h1M673 219.5h1M674 220.5h1M675 221.5h1M676 222.5h1M677 223.5h1M678.5 224v2M679 226.5h1M680 227.5h1M681 228.5h1M682 229.5h1M683 230.5h1M684 231.5h1M685 232.5h1M686 233.5h1M687 234.5h1M688 235.5h1M689 236.5h2M691 237.5h1M692 238.5h1M693 239.5h1M694 240.5h1M695 241.5h1M696 242.5h1M697 243.5h1M698 244.5h2M700 245.5h1M701 246.5h1M702 247.5h1M703 248.5h1M704 249.5h2M706 250.5h1M707 251.5h1M708 252.5h1M709 253.5h1M710 254.5h1M711 255.5h1M712 256.5h1M713 257.5h1M714.5 258v2M715 260.5h1M716 261.5h1M717 262.5h1M718 263.5h1M719 264.5h1M720 265.5h1M721 266.5h1M722 267.5h1M723 268.5h1M724 269.5h1M725 270.5h2M727 271.5h1M728 272.5h1M729 273.5h1M730 274.5h1M731 275.5h1M732 276.5h1M733 277.5h2M735 278.5h2M737 279.5h2M739 280.5h1M740 281.5h2M742 282.5h2M744 283.5h1M745 284.5h2M747 285.5h2M749 286.5h2M751 287.5h1M752 288.5h2M754 289.5h2M756 290.5h1M757 291.5h2M759 292.5h1M760 293.5h1M761 294.5h2M763 295.5h1M764 296.5h1M765 297.5h2M767 298.5h1M768 299.5h1M769.5 300v2M770 302.5h1M771.5 303v2M772 305.5h1M773.5 306v2M774 308.5h1M775.5 309v2M776 311.5h1M777.5 312v2M778 314.5h1M779.5 315v2M780 317.5h1M781 318.5h1M782 319.5h1M783 320.5h1M784 321.5h1M785 322.5h1M786.5 323v2M787 325.5h1M788 326.5h1M789 327.5h1M790 328.5h1M791 329.5h1M792 330.5h1M793 331.5h1M794 332.5h2M796 333.5h1M797 334.5h1M798 335.5h1M799 336.5h1M800 337.5h2M802 338.5h1M803 339.5h1M804 340.5h1M805 341.5h2M807 342.5h2M809 343.5h2M811 344.5h1M812 345.5h2M814 346.5h2M816 347.5h2M818 348.5h2M820 349.5h2M822 350.5h2M824 351.5h2M826 352.5h2M828 353.5h4M832 354.5h6M838 355.5h4M842 356.5h2M844 357.5h3M847 358.5h2M849 359.5h2M851 360.5h5M856 361.5h6M862 362.5h5M867 363.5h4M871 364.5h4M875 365.5h3M878 366.5h3M881 367.5h3M884 368.5h3M887 369.5h3M890 368.5h2M892 367.5h2M894 366.5h2M896 365.5h2M898 364.5h2M900 363.5h2M902 362.5h2M904 361.5h3M907 360.5h2M909 359.5h2M911 358.5h5M916 359.5h6M922 360.5h4M926 361.5h3M929 362.5h3M932 363.5h3M935 364.5h2M937 365.5h1M938 366.5h1M939 367.5h1M940 368.5h1M941 369.5h2M943 370.5h1M944 371.5h1M945 372.5h1M946 373.5h1M947 374.5h1M948 375.5h1M949 376.5h2M951 377.5h1M952 378.5h2M954 379.5h1M955 380.5h2M957 381.5h1M958 382.5h2M960 383.5h2M962 384.5h3M965 385.5h3M968 386.5h3M971 387.5h2M973 388.5h2M975 389.5h2M977 390.5h2M979 391.5h1M980 392.5h2M982 393.5h2M984 394.5h1M985 395.5h2M987 396.5h2M989 397.5h2M991 398.5h1M992 399.5h2M994 400.5h2M996 401.5h1M997 402.5h2M999 403.5h2M1001 404.5h2M1003 405.5h1M1004 406.5h2M1006 407.5h2M1008 408.5h1M1009 409.5h1M1010 410.5h2M1012 411.5h1M1013 412.5h1M1014 413.5h1M1015 414.5h1M1016 415.5h2M1018 416.5h1M1019 417.5h1M1020 418.5h1M1021 419.5h2M1023 420.5h1M1024 421.5h1M1025 422.5h2M1027 423.5h1M1028 424.5h1M1029 425.5h2M1031 426.5h1M1032 427.5h7M1039 428.5h9M1048 429.5h6M1054 430.5h3M1057 429.5h1M1058 428.5h1M1059.5 426v2M1060 425.5h1M1061 424.5h1M1062 423.5h1M1063 422.5h1M1064 421.5h1M1065.5 419v2M1066 418.5h1M1067 417.5h1M1068 416.5h1M1069.5 414v2M1070 413.5h1M1071 412.5h1M1072.5 410v2M1073 409.5h1M1074.5 407v2M1075 406.5h1M1076.5 404v2M1077 403.5h1M1078 402.5h1M1079.5 400v2M1080 399.5h1M1081 398.5h1M1082.5 396v2M1083 395.5h1M1084 394.5h1M1085 393.5h1M1086.5 391v2M1087 390.5h1M1088 389.5h1M1089 388.5h1M1090.5 386v2M1091 385.5h1M1092 384.5h1M1093 383.5h1M1094 382.5h1M1095 381.5h1M1096 380.5h1M1097 379.5h1M1098 378.5h1M1099 377.5h1M1100 376.5h1M1101 375.5h1M1102 374.5h1M1103 373.5h1M1104 372.5h1M1105 371.5h1M1106 370.5h1M1107.5 368v2M1108 367.5h1M1109 366.5h1M1110 365.5h1M1111 364.5h1M1112 363.5h1M1113.5 361v2M1114 360.5h1M1115 359.5h1M1116 358.5h1M1117 357.5h1M1118 356.5h1M1119.5 354v2M1120 353.5h1M1121 352.5h1M1122 351.5h1M1123 350.5h1M1124 349.5h1M1125.5 347v2M1126 346.5h1M1127 345.5h1M1128 344.5h1M1129.5 342v2M1130.5 340v2M1131.5 338v2M1132.5 336v2M1133.5 334v2M1134 333.5h1M1135.5 331v2M1136.5 329v2M1137.5 327v2M1138.5 325v2M1139.5 323v2M1140 322.5h1M1141.5 320v2M1142.5 318v2M1143.5 316v2M1144.5 314v2M1145.5 312v2M1146 311.5h1M1147.5 309v2M1148.5 307v2M1149.5 305v2M1150.5 303v2M1151.5 301v2M1152 300.5h1M1153.5 298v2M1154.5 296v2M1155.5 294v2M1156.5 292v2M1157.5 290v2M1158 289.5h1M1159.5 287v2M1160.5 285v2M1161.5 283v2M1162.5 281v2M1163.5 279v2M1164 278.5h1M1165.5 276v2M1166 275.5h1M1167.5 273v2M1168.5 271v2M1169 270.5h1M1170.5 268v2M1171 267.5h1M1172.5 265v2M1173.5 263v2M1174 262.5h1M1175.5 260v2M1176 259.5h1M1177 258.5h2M1179 257.5h1M1180 256.5h2M1182 255.5h1M1183 254.5h2M1185 253.5h1M1186 252.5h2M1188 251.5h3M1191 250.5h4M1195 249.5h4M1199 248.5h5M1204 247.5h6M1210 246.5h4M1214 245.5h2M1216 244.5h2M1218 243.5h2M1220 242.5h2M1222 241.5h2M1224 240.5h1M1225 239.5h2M1227 238.5h2M1229 237.5h2M1231 236.5h1M1232 235.5h2M1234 234.5h2M1236 233.5h2M1238 232.5h3M1241 231.5h3M1244 230.5h3M1247 229.5h5M1252 230.5h6M1258 231.5h5M1263 232.5h4M1267 233.5h4M1271 234.5h8M1279 235.5h12M1291 236.5h12M1303 237.5h7M1310 236.5h2M1312 235.5h3M1315 234.5h2M1317 233.5h2M1319 232.5h29M1348 231.5h6M1354 230.5h4M1358 229.5h3M1361 228.5h3M1364 227.5h3M1367 226.5h3M1370 225.5h2M1372 224.5h3M1375 223.5h2M1377 222.5h2M1379 221.5h3M1382 220.5h2M1384 219.5h3M1387 218.5h2M1389 217.5h2M1391 216.5h3M1394 215.5h2M1396 214.5h3M1399 213.5h2M1401 212.5h2M1403 211.5h2M1405 210.5h2M1407 209.5h2M1409 208.5h2M1411 207.5h1M1412 206.5h2M1414 205.5h2M1416 204.5h2M1418 203.5h2M1420 202.5h2M1422 201.5h2M1424 200.5h2M1426 199.5h2M1428 198.5h3M1431 197.5h4M1435 196.5h4M1439 195.5h3M1442 194.5h3M1445 193.5h3M1448 192.5h3M1451 191.5h17M1468 192.5h6M1474 193.5h3M1477 194.5h2M1479 195.5h1M1480 196.5h1M1481 197.5h2M1483 198.5h1M1484 199.5h1M1485 200.5h2M1487 201.5h1M1488 202.5h1M1489 203.5h2M1491 204.5h1M1492 205.5h1M1493 206.5h2M1495 207.5h1M1496 208.5h1M1497 209.5h2M1499 210.5h1M1500 211.5h2M1502 212.5h2M1504 213.5h2M1506 214.5h2M1508 215.5h2M1510 216.5h2M1512 217.5h1M1513 218.5h1M1514 219.5h1M1515 220.5h1M1516 221.5h1M1517 222.5h1M1518.5 223v2M1519 225.5h1M1520 226.5h1M1521 227.5h1M1522 228.5h1M1523 229.5h1M1524 230.5h1M1525 231.5h1M1526 232.5h1M1527.5 233v2M1528 235.5h1M1529 236.5h1M1530 237.5h1M1531 238.5h1M1532 239.5h1M1533.5 240v2M1534 242.5h1M1535 243.5h1M1536 244.5h1M1537 245.5h1M1538 246.5h1M1539 247.5h1M1540 248.5h1M1541 249.5h2M1543 250.5h1M1544 251.5h1M1545 252.5h1M1546 253.5h1M1547 254.5h1M1548 255.5h1M1549 256.5h2M1551 257.5h2M1553 258.5h2M1555 259.5h1M1556 260.5h2M1558 261.5h2M1560 262.5h1" fill="none" stroke="#f0f0f0" stroke-width="1" shape-rendering="crispEdges"/>
<path d="M96 318.5h2M98 317.5h2M100 316.5h2M102 315.5h2M104 314.5h2M106 313.5h2M108 312.5h2M110 311.5h3M113 310.5h3M116 309.5h3M119 308.5h3M122 307.5h3M125 306.5h3M128 305.5h3M131 304.5h5M136 303.5h6M142 302.5h6M148 301.5h6M154 300.5h9M163 299.5h12M175 298.5h12M187 297.5h12M199 296.5h24M223 297.5h12M235 298.5h9M244 299.5h6M250 300.5h4M254 301.5h3M257 302.5h3M260 303.5h3M263 304.5h3M266 305.5h2M268 306.5h3M271 307.5h2M273 308.5h2M275 309.5h4M279 310.5h4M283 311.5h4M287 312.5h4M291 313.5h4M295 314.5h4M299 315.5h8M307 316.5h9M316 317.5h6M322 318.5h33M355 319.5h12M367 318.5h8M375 317.5h4M379 316.5h4M383 315.5h3M386 314.5h2M388 313.5h3M391 312.5h2M393 311.5h2M395 310.5h3M398 309.5h3M401 308.5h3M404 307.5h3M407 306.5h3M410 305.5h2M412 304.5h2M414 303.5h2M416 302.5h2M418 301.5h2M420 300.5h1M421 299.5h2M423 298.5h2M425 297.5h2M427 296.5h1M428 295.5h2M430 294.5h2M432 293.5h1M433 292.5h2M435 291.5h1M436 290.5h1M437 289.5h2M439 288.5h1M440 287.5h1M441 286.5h2M443 285.5h1M444 284.5h3M447 283.5h4M451 282.5h4M455 281.5h3M458 280.5h2M460 279.5h3M463 278.5h2M465 277.5h2M467 276.5h3M470 275.5h2M472 274.5h3M475 273.5h2M477 272.5h2M479 271.5h2M481 270.5h2M483 269.5h1M484 268.5h1M485 267.5h2M487 266.5h1M488 265.5h1M489 264.5h2M491 263.5h1M492 262.5h1M493 261.5h1M494 260.5h1M495 259.5h1M496 258.5h1M497 257.5h1M498 256.5h1M499 255.5h1M500 254.5h1M501 253.5h1M502 252.5h1M503 251.5h1M504 250.5h1M505 249.5h1M506.5 247v2M507 246.5h1M508 245.5h1M509 244.5h1M510.5 242v2M511 241.5h1M512 240.5h1M513 239.5h1M514.5 237v2M515 236.5h1M516 235.5h1M517 234.5h1M518 233.5h2M520 232.5h1M521 231.5h1M522 230.5h1M523 229.5h1M524 228.5h2M526 227.5h1M527 226.5h1M528 225.5h1M529 224.5h1M530 223.5h1M531 222.5h1M532 221.5h1M533 220.5h2M535 219.5h1M536 218.5h1M537 217.5h1M538 216.5h1M539 215.5h1M540 214.5h1M541 213.5h1M542 212.5h1M543 211.5h1M544 210.5h1M545 209.5h2M547 208.5h1M548 207.5h1M549 206.5h1M550 205.5h1M551 204.5h1M552 203.5h1M553 202.5h1M554 201.5h2M556 200.5h1M557 199.5h1M558 198.5h1M559 197.5h1M560 196.5h2M562 195.5h1M563 194.5h1M564 193.5h2M566 192.5h2M568 191.5h3M571 190.5h2M573 189.5h2M575 188.5h3M578 187.5h2M580 186.5h3M583 185.5h2M585 184.5h2M587 183.5h3M590 182.5h3M593 181.5h3M596 180.5h3M599 179.5h4M603 178.5h4M607 177.5h4M611 176.5h8M619 175.5h12M631 174.5h12M643 175.5h12M655 176.5h7M662 177.5h3M665 178.5h3M668 179.5h3M671 180.5h3M674 181.5h3M677 182.5h3M680 183.5h3M683 184.5h3M686 185.5h2M688 186.5h3M691 187.5h2M693 188.5h2M695 189.5h3M698 190.5h2M700 191.5h2M702 192.5h2M704 193.5h2M706 194.5h2M708 195.5h1M709 196.5h2M711 197.5h2M713 198.5h2M715 199.5h1M716 200.5h2M718 201.5h2M720 202.5h1M721 203.5h1M722 204.5h2M724 205.5h1M725 206.5h1M726 207.5h1M727 208.5h1M728 209.5h2M730 210.5h1M731 211.5h1M732 212.5h1M733 213.5h1M734 214.5h2M736 215.5h1M737 216.5h1M738 217.5h1M739 218.5h1M740 219.5h2M742 220.5h1M743 221.5h1M744 222.5h1M745 223.5h1M746 224.5h2M748 225.5h1M749 226.5h1M750 227.5h1M751 228.5h1M752 229.5h2M754 230.5h1M755 231.5h1M756 232.5h1M757 233.5h1M758 234.5h1M759 235.5h1M760 236.5h1M761 237.5h2M763 238.5h1M764 239.5h1M765 240.5h1M766 241.5h1M767 242.5h1M768 243.5h1M769 244.5h1M770.5 245v2M771 247.5h1M772 248.5h1M773 249.5h1M774.5 250v2M775 252.5h1M776 253.5h1M777 254.5h1M778.5 255v2M779 257.5h1M780 258.5h1M781 259.5h1M782 260.5h1M783.5 261v2M784 263.5h1M785 264.5h1M786 265.5h1M787 266.5h1M788 267.5h1M789.5 268v2M790 270.5h1M791 271.5h1M792 272.5h1M793 273.5h1M794 274.5h1M795 275.5h1M796 276.5h1M797 277.5h1M798 278.5h1M799 279.5h1M800 280.5h1M801 281.5h1M802 282.5h1M803 283.5h1M804 284.5h1M805 285.5h1M806 286.5h2M808 287.5h1M809 288.5h1M810 289.5h1M811 290.5h1M812 291.5h2M814 292.5h1M815 293.5h1M816 294.5h1M817 295.5h2M819 296.5h1M820 297.5h1M821 298.5h2M823 299.5h1M824 300.5h1M825 301.5h2M827 302.5h1M828 303.5h1M829 304.5h2M831 305.5h1M832 306.5h2M834 307.5h1M835 308.5h2M837 309.5h1M838 310.5h2M840 311.5h2M842 312.5h2M844 313.5h2M846 314.5h2M848 315.5h2M850 316.5h2M852 317.5h2M854 318.5h2M856 319.5h2M858 320.5h2M860 321.5h2M862 322.5h2M864 323.5h2M866 324.5h2M868 325.5h3M871 326.5h2M873 327.5h2M875 328.5h3M878 329.5h3M881 330.5h3M884 331.5h3M887 332.5h3M890 333.5h2M892 334.5h2M894 335.5h2M896 336.5h2M898 337.5h2M900 338.5h2M902 339.5h2M904 340.5h2M906 341.5h2M908 342.5h2M910 343.5h2M912 344.5h2M914 345.5h2M916 346.5h2M918 347.5h2M920 348.5h2M922 349.5h2M924 350.5h1M925 351.5h2M927 352.5h2M929 353.5h2M931 354.5h1M932 355.5h2M934 356.5h2M936 357.5h1M937 358.5h2M939 359.5h1M940 360.5h2M942 361.5h1M943 362.5h2M945 363.5h1M946 364.5h2M948 365.5h2M950 366.5h2M952 367.5h3M955 368.5h2M957 369.5h2M959 370.5h3M962 371.5h3M965 372.5h3M968 373.5h3M971 374.5h4M975 375.5h4M979 376.5h4M983 377.5h3M986 378.5h2M988 379.5h2M990 380.5h2M992 381.5h2M994 382.5h2M996 383.5h2M998 384.5h2M1000 385.5h3M1003 386.5h2M1005 387.5h2M1007 388.5h8M1015 389.5h7M1022 390.5h3M1025 391.5h3M1028 392.5h3M1031 393.5h5M1036 394.5h6M1042 395.5h6M1048 396.5h6M1054 397.5h6M1060 396.5h6M1066 395.5h5M1071 394.5h4M1075 393.5h4M1079 392.5h3M1082 391.5h2M1084 390.5h2M1086 389.5h2M1088 388.5h2M1090 387.5h2M1092 386.5h3M1095 385.5h4M1099 384.5h4M1103 383.5h4M1107 382.5h4M1111 381.5h4M1115 380.5h3M1118 379.5h3M1121 378.5h3M1124 377.5h3M1127 376.5h2M1129 375.5h2M1131 374.5h1M1132 373.5h2M1134 372.5h1M1135 371.5h2M1137 370.5h1M1138 369.5h2M1140 368.5h2M1142 367.5h2M1144 366.5h3M1147 365.5h2M1149 364.5h2M1151 363.5h2M1153 362.5h2M1155 361.5h1M1156 360.5h2M1158 359.5h1M1159 358.5h2M1161 357.5h1M1162 356.5h2M1164 355.5h1M1165 354.5h1M1166 353.5h2M1168 352.5h1M1169 351.5h1M1170 350.5h1M1171 349.5h1M1172 348.5h2M1174 347.5h1M1175 346.5h1M1176 345.5h1M1177 344.5h1M1178 343.5h1M1179 342.5h1M1180 341.5h1M1181 340.5h2M1183 339.5h1M1184 338.5h1M1185 337.5h1M1186 336.5h1M1187 335.5h1M1188 334.5h1M1189 333.5h1M1190 332.5h2M1192 331.5h1M1193 330.5h1M1194 329.5h1M1195 328.5h1M1196 327.5h2M1198 326.5h1M1199 325.5h1M1200 324.5h1M1201 323.5h1M1202 322.5h1M1203 321.5h1M1204 320.5h1M1205 319.5h2M1207 318.5h1M1208 317.5h1M1209 316.5h1M1210 315.5h1M1211 314.5h1M1212 313.5h1M1213 312.5h2M1215 311.5h1M1216 310.5h1M1217 309.5h2M1219 308.5h1M1220 307.5h1M1221 306.5h2M1223 305.5h1M1224 304.5h1M1225 303.5h1M1226 302.5h2M1228 301.5h1M1229 300.5h1M1230 299.5h1M1231 298.5h1M1232 297.5h2M1234 296.5h1M1235 295.5h1M1236 294.5h1M1237 293.5h2M1239 292.5h1M1240 291.5h2M1242 290.5h1M1243 289.5h2M1245 288.5h1M1246 287.5h2M1248 286.5h1M1249 285.5h1M1250 284.5h2M1252 283.5h1M1253 282.5h1M1254 281.5h1M1255 280.5h1M1256 279.5h2M1258 278.5h1M1259 277.5h1M1260 276.5h1M1261 275.5h2M1263 274.5h1M1264 273.5h2M1266 272.5h1M1267 271.5h2M1269 270.5h1M1270 269.5h2M1272 268.5h1M1273 267.5h1M1274 266.5h2M1276 265.5h1M1277 264.5h1M1278 263.5h1M1279 262.5h1M1280 261.5h2M1282 260.5h1M1283 259.5h1M1284 258.5h1M1285 257.5h1M1286 256.5h1M1287 255.5h1M1288 254.5h1M1289 253.5h2M1291 252.5h1M1292 251.5h1M1293 250.5h1M1294 249.5h1M1295 248.5h1M1296 247.5h3M1299 246.5h4M1303 245.5h4M1307 244.5h3M1310 243.5h3M1313 242.5h3M1316 241.5h3M1319 240.5h5M1324 239.5h6M1330 238.5h6M1336 237.5h6M1342 236.5h4M1346 235.5h3M1349 234.5h3M1352 233.5h3M1355 232.5h3M1358 231.5h3M1361 230.5h3M1364 229.5h3M1367 228.5h5M1372 227.5h6M1378 226.5h5M1383 225.5h4M1387 224.5h4M1391 223.5h4M1395 222.5h4M1399 221.5h4M1403 220.5h5M1408 219.5h6M1414 218.5h6M1420 217.5h6M1426 216.5h5M1431 215.5h4M1435 214.5h4M1439 213.5h5M1444 212.5h6M1450 211.5h21M1471 212.5h7M1478 213.5h3M1481 214.5h3M1484 215.5h3M1487 216.5h8M1495 217.5h20M1515 218.5h4M1519 219.5h4M1523 220.5h5M1528 221.5h6M1534 222.5h5M1539 223.5h4M1543 224.5h4M1547 225.5h3M1550 226.5h2M1552 227.5h3M1555 228.5h2M1557 229.5h2M1559 230.5h2" fill="none" stroke="#e6e61e" stroke-width="1" shape-rendering="crispEdges"/>
<path d="M96 339.5h7M103 338.5h36M139 339.5h12M151 340.5h36M187 339.5h12M199 338.5h60M259 337.5h12M271 336.5h12M283 335.5h12M295 334.5h24M319 333.5h12M331 332.5h12M343 331.5h12M355 330.5h9M364 329.5h6M370 328.5h9M379 327.5h7M386 326.5h3M389 325.5h3M392 324.5h3M395 323.5h3M398 322.5h3M401 321.5h3M404 320.5h3M407 319.5h3M410 318.5h2M412 317.5h3M415 316.5h2M417 315.5h2M419 314.5h3M422 313.5h3M425 312.5h3M428 311.5h3M431 310.5h3M434 309.5h2M436 308.5h3M439 307.5h2M441 306.5h2M443 305.5h3M446 304.5h3M449 303.5h3M452 302.5h3M455 301.5h3M458 300.5h3M461 299.5h3M464 298.5h3M467 297.5h4M471 296.5h4M475 295.5h4M479 294.5h3M482 293.5h3M485 292.5h3M488 291.5h3M491 290.5h3M494 289.5h2M496 288.5h3M499 287.5h2M501 286.5h2M503 285.5h3M506 284.5h2M508 283.5h2M510 282.5h2M512 281.5h2M514 280.5h2M516 279.5h2M518 278.5h2M520 277.5h3M523 276.5h2M525 275.5h2M527 274.5h3M530 273.5h2M532 272.5h3M535 271.5h2M537 270.5h2M539 269.5h3M542 268.5h2M544 267.5h3M547 266.5h2M549 265.5h2M551 264.5h4M555 263.5h4M559 262.5h4M563 261.5h4M567 260.5h4M571 259.5h4M575 258.5h5M580 257.5h6M586 256.5h9M595 255.5h12M607 254.5h12M619 253.5h12M631 252.5h24M655 251.5h36M691 252.5h84M775 253.5h9M784 254.5h6M790 255.5h9M799 256.5h12M811 257.5h12M823 258.5h9M832 259.5h6M838 260.5h9M847 261.5h24M871 260.5h12M883 261.5h12M895 262.5h21M916 263.5h6M922 264.5h6M928 265.5h6M934 266.5h4M938 267.5h3M941 268.5h3M944 269.5h3M947 270.5h4M951 271.5h4M955 272.5h4M959 273.5h5M964 274.5h6M970 275.5h5M975 276.5h4M979 277.5h4M983 278.5h3M986 279.5h3M989 280.5h3M992 281.5h3M995 282.5h3M998 283.5h3M1001 284.5h3M1004 285.5h3M1007 286.5h3M1010 287.5h3M1013 288.5h3M1016 289.5h3M1019 290.5h3M1022 291.5h3M1025 292.5h3M1028 293.5h3M1031 294.5h3M1034 295.5h2M1036 296.5h3M1039 297.5h2M1041 298.5h2M1043 299.5h3M1046 300.5h2M1048 301.5h3M1051 302.5h2M1053 303.5h2M1055 304.5h5M1060 305.5h6M1066 306.5h5M1071 307.5h4M1075 308.5h4M1079 309.5h4M1083 310.5h4M1087 311.5h4M1091 312.5h4M1095 313.5h4M1099 314.5h4M1103 315.5h4M1107 316.5h4M1111 317.5h4M1115 318.5h4M1119 319.5h4M1123 320.5h4M1127 321.5h5M1132 322.5h6M1138 323.5h5M1143 324.5h4M1147 325.5h4M1151 326.5h5M1156 327.5h6M1162 328.5h9M1171 329.5h12M1183 330.5h12M1195 331.5h24M1219 330.5h36M1255 329.5h24M1279 330.5h9M1288 329.5h6M1294 328.5h6M1300 327.5h6M1306 326.5h6M1312 325.5h6M1318 324.5h6M1324 323.5h6M1330 322.5h9M1339 321.5h7M1346 320.5h3M1349 319.5h3M1352 318.5h3M1355 317.5h4M1359 316.5h4M1363 315.5h4M1367 314.5h3M1370 313.5h3M1373 312.5h3M1376 311.5h3M1379 310.5h3M1382 309.5h3M1385 308.5h3M1388 307.5h3M1391 306.5h3M1394 305.5h2M1396 304.5h2M1398 303.5h2M1400 302.5h2M1402 301.5h2M1404 300.5h2M1406 299.5h2M1408 298.5h3M1411 297.5h2M1413 296.5h2M1415 295.5h4M1419 294.5h4M1423 293.5h4M1427 292.5h4M1431 291.5h4M1435 290.5h4M1439 289.5h5M1444 288.5h6M1450 287.5h6M1456 286.5h6M1462 285.5h6M1468 284.5h6M1474 283.5h9M1483 282.5h9M1492 281.5h6M1498 280.5h9M1507 279.5h8M1515 278.5h4M1519 277.5h4M1523 276.5h5M1528 275.5h6M1534 274.5h5M1539 273.5h4M1543 272.5h4M1547 271.5h4M1551 270.5h4M1555 269.5h4M1559 268.5h2" fill="none" stroke="#f020f0" stroke-width="1" shape-rendering="crispEdges"/>
<path d="M96 343.5h7M103 342.5h24M127 343.5h12M139 344.5h24M163 345.5h12M175 346.5h12M187 347.5h9M196 348.5h6M202 349.5h57M259 348.5h36M295 347.5h36M331 346.5h12M343 345.5h24M367 344.5h21M388 343.5h6M394 342.5h6M400 341.5h6M406 340.5h6M412 339.5h6M418 338.5h6M424 337.5h6M430 336.5h6M436 335.5h6M442 334.5h6M448 333.5h6M454 332.5h6M460 331.5h6M466 330.5h6M472 329.5h6M478 328.5h5M483 327.5h4M487 326.5h4M491 325.5h4M495 324.5h4M499 323.5h4M503 322.5h3M506 321.5h3M509 320.5h3M512 319.5h3M515 318.5h4M519 317.5h4M523 316.5h4M527 315.5h4M531 314.5h4M535 313.5h4M539 312.5h3M542 311.5h3M545 310.5h3M548 309.5h3M551 308.5h4M555 307.5h4M559 306.5h4M563 305.5h4M567 304.5h4M571 303.5h4M575 302.5h5M580 301.5h6M586 300.5h9M595 299.5h24M619 298.5h12M631 297.5h12M643 296.5h24M667 295.5h60M727 296.5h45M772 297.5h6M778 298.5h141M919 299.5h12M931 300.5h12M943 301.5h12M955 302.5h60M1015 303.5h36M1051 302.5h24M1075 301.5h12M1087 300.5h12M1099 299.5h24M1123 298.5h9M1132 297.5h6M1138 296.5h9M1147 295.5h12M1159 294.5h12M1171 293.5h36M1207 292.5h24M1231 291.5h36M1267 290.5h36M1303 289.5h12M1315 288.5h21M1336 287.5h6M1342 286.5h9M1351 285.5h9M1360 284.5h6M1366 283.5h9M1375 282.5h9M1384 281.5h6M1390 280.5h6M1396 279.5h6M1402 278.5h9M1411 277.5h12M1423 276.5h9M1432 275.5h6M1438 274.5h9M1447 273.5h12M1459 272.5h24M1483 271.5h12M1495 270.5h60M1555 271.5h6" fill="none" stroke="#22ee22" stroke-width="1" shape-rendering="crispEdges"/>
<path d="M96 310.5h7M103 309.5h12M115 308.5h21M136 307.5h6M142 306.5h33M175 305.5h36M211 304.5h24M235 303.5h12M247 302.5h108M355 303.5h24M379 304.5h12M391 303.5h36M427 302.5h36M463 301.5h24M487 300.5h24M511 299.5h12M523 298.5h24M547 297.5h24M571 296.5h12M583 295.5h24M607 294.5h24M631 293.5h12M643 292.5h24M667 291.5h24M691 290.5h132M823 291.5h36M859 292.5h24M883 293.5h12M895 294.5h12M907 295.5h9M916 296.5h6M922 297.5h9M931 298.5h9M940 299.5h6M946 300.5h6M952 301.5h6M958 302.5h9M967 303.5h9M976 304.5h6M982 305.5h9M991 306.5h9M1000 307.5h6M1006 308.5h9M1015 309.5h12M1027 310.5h9M1036 311.5h6M1042 312.5h9M1051 313.5h12M1063 314.5h24M1087 315.5h24M1111 316.5h216M1327 315.5h24M1351 314.5h36M1387 313.5h24M1411 312.5h36M1447 311.5h24M1471 310.5h36M1507 309.5h36M1543 308.5h18" fill="none" stroke="#868686" stroke-width="1" shape-rendering="crispEdges"/>
<g shape-rendering="crispEdges" fill="#fff">
<rect x="244" y="319" width="6" height="6" style="mix-blend-mode:difference"/>
<rect x="400" y="286" width="6" height="6" style="mix-blend-mode:difference"/>
<rect x="556" y="136" width="6" height="6" style="mix-blend-mode:difference"/>
<rect x="712" y="262" width="6" height="6" style="mix-blend-mode:difference"/>
<rect x="868" y="362" width="6" height="6" style="mix-blend-mode:difference"/>
<rect x="1024" y="424" width="6" height="6" style="mix-blend-mode:difference"/>
<rect x="1180" y="248" width="6" height="6" style="mix-blend-mode:difference"/>
<rect x="1336" y="229" width="6" height="6" style="mix-blend-mode:difference"/>
<rect x="1492" y="208" width="6" height="6" style="mix-blend-mode:difference"/>
<rect x="244" y="297" width="6" height="6" style="mix-blend-mode:difference"/>
<rect x="400" y="303" width="6" height="6" style="mix-blend-mode:difference"/>
<rect x="556" y="190" width="6" height="6" style="mix-blend-mode:difference"/>
<rect x="712" y="199" width="6" height="6" style="mix-blend-mode:difference"/>
<rect x="868" y="325" width="6" height="6" style="mix-blend-mode:difference"/>
<rect x="1024" y="390" width="6" height="6" style="mix-blend-mode:difference"/>
<rect x="1180" y="331" width="6" height="6" style="mix-blend-mode:difference"/>
<rect x="1336" y="233" width="6" height="6" style="mix-blend-mode:difference"/>
<rect x="1492" y="214" width="6" height="6" style="mix-blend-mode:difference"/>
<rect x="244" y="335" width="6" height="6" style="mix-blend-mode:difference"/>
<rect x="400" y="316" width="6" height="6" style="mix-blend-mode:difference"/>
<rect x="556" y="258" width="6" height="6" style="mix-blend-mode:difference"/>
<rect x="712" y="249" width="6" height="6" style="mix-blend-mode:difference"/>
<rect x="868" y="257" width="6" height="6" style="mix-blend-mode:difference"/>
<rect x="1024" y="291" width="6" height="6" style="mix-blend-mode:difference"/>
<rect x="1180" y="327" width="6" height="6" style="mix-blend-mode:difference"/>
<rect x="1336" y="318" width="6" height="6" style="mix-blend-mode:difference"/>
<rect x="1492" y="277" width="6" height="6" style="mix-blend-mode:difference"/>
<rect x="244" y="346" width="6" height="6" style="mix-blend-mode:difference"/>
<rect x="400" y="337" width="6" height="6" style="mix-blend-mode:difference"/>
<rect x="556" y="302" width="6" height="6" style="mix-blend-mode:difference"/>
<rect x="712" y="292" width="6" height="6" style="mix-blend-mode:difference"/>
<rect x="868" y="295" width="6" height="6" style="mix-blend-mode:difference"/>
<rect x="1024" y="300" width="6" height="6" style="mix-blend-mode:difference"/>
<rect x="1180" y="290" width="6" height="6" style="mix-blend-mode:difference"/>
<rect x="1336" y="283" width="6" height="6" style="mix-blend-mode:difference"/>
<rect x="1492" y="267" width="6" height="6" style="mix-blend-mode:difference"/>
<rect x="244" y="299" width="6" height="6" style="mix-blend-mode:difference"/>
<rect x="400" y="300" width="6" height="6" style="mix-blend-mode:difference"/>
<rect x="556" y="294" width="6" height="6" style="mix-blend-mode:difference"/>
<rect x="712" y="287" width="6" height="6" style="mix-blend-mode:difference"/>
<rect x="868" y="289" width="6" height="6" style="mix-blend-mode:difference"/>
<rect x="1024" y="307" width="6" height="6" style="mix-blend-mode:difference"/>
<rect x="1180" y="313" width="6" height="6" style="mix-blend-mode:difference"/>
<rect x="1336" y="312" width="6" height="6" style="mix-blend-mode:difference"/>
<rect x="1492" y="307" width="6" height="6" style="mix-blend-mode:difference"/>
</g>
<g shape-rendering="crispEdges">
<line x1="91" y1="304.5" x2="1596" y2="304.5" stroke="#f09628" stroke-dasharray="3 3"/>
<line x1="1596" y1="304.5" x2="1664" y2="304.5" stroke="#f09628"/>
</g>
<path d="M1656 296h8l-4 4zM1656 300h8l-4 4z" fill="#f0a030"/>
<g shape-rendering="crispEdges"><rect x="526" y="72" width="7" height="1" fill="#fff"/><rect x="528" y="70" width="1" height="4" fill="#fff"/></g>
<text class="b" x="534" y="69" fill="#f03250" textLength="44.2">3438.80</text>
<g shape-rendering="crispEdges"><rect x="1390" y="146" width="7" height="1" fill="#fff"/><rect x="1392" y="144" width="1" height="4" fill="#fff"/></g>
<text class="b" x="1398" y="143" fill="#f03250" textLength="44.2">3408.71</text>
<g shape-rendering="crispEdges"><rect x="274" y="390" width="7" height="1" fill="#fff"/><rect x="276" y="388" width="1" height="4" fill="#fff"/></g>
<text class="b" x="282" y="402" fill="#38d888" textLength="44.2">3309.82</text>
<g shape-rendering="crispEdges"><rect x="946" y="493" width="7" height="1" fill="#fff"/><rect x="948" y="491" width="1" height="4" fill="#fff"/></g>
<text class="b" x="953.5" y="505" fill="#38d888" textLength="44.2">3268.02</text>
<g shape-rendering="crispEdges"><rect x="1510" y="313" width="7" height="1" fill="#fff"/><rect x="1512" y="311" width="1" height="4" fill="#fff"/></g>
<text class="b" x="1518" y="325" fill="#38d888" textLength="44.2">3341.25</text>
<path d="M96 578.5h4M100 577.5h6M106 576.5h9M115 575.5h9M124 576.5h6M130 577.5h4M134 578.5h2M136 579.5h2M138 580.5h2M140 581.5h2M142 582.5h2M144 583.5h2M146 584.5h2M148 585.5h3M151 586.5h2M153 587.5h2M155 588.5h4M159 589.5h4M163 590.5h4M167 591.5h8M175 592.5h21M196 593.5h6M202 594.5h6M208 593.5h6M214 592.5h33M247 593.5h8M255 594.5h4M259 595.5h4M263 596.5h3M266 597.5h3M269 598.5h3M272 599.5h3M275 600.5h8M283 599.5h12M295 598.5h33M328 597.5h6M334 596.5h4M338 595.5h3M341 594.5h3M344 593.5h3M347 592.5h5M352 591.5h6M358 590.5h18M376 589.5h6M382 588.5h5M387 587.5h4M391 586.5h4M395 585.5h8M403 584.5h6M409 583.5h2M411 582.5h2M413 581.5h2M415 580.5h1M416 579.5h2M418 578.5h2M420 577.5h2M422 576.5h2M424 575.5h3M427 574.5h2M429 573.5h2M431 572.5h3M434 571.5h3M437 570.5h3M440 569.5h3M443 568.5h8M451 567.5h24M475 566.5h7M482 565.5h2M484 564.5h3M487 563.5h2M489 562.5h2M491 561.5h3M494 560.5h2M496 559.5h3M499 558.5h2M501 557.5h2M503 556.5h3M506 555.5h2M508 554.5h2M510 553.5h2M512 552.5h2M514 551.5h2M516 550.5h16M532 549.5h6M538 548.5h18M556 549.5h6M562 550.5h4M566 551.5h2M568 552.5h2M570 553.5h2M572 554.5h2M574 555.5h2M576 556.5h2M578 557.5h2M580 558.5h3M583 559.5h2M585 560.5h2M587 561.5h3M590 562.5h2M592 563.5h2M594 564.5h2M596 565.5h2M598 566.5h2M600 567.5h2M602 568.5h2M604 569.5h3M607 570.5h2M609 571.5h2M611 572.5h2M613 573.5h2M615 574.5h2M617 575.5h2M619 576.5h1M620 577.5h2M622 578.5h2M624 579.5h1M625 580.5h2M627 581.5h2M629 582.5h2M631 583.5h1M632 584.5h2M634 585.5h2M636 586.5h2M638 587.5h3M641 588.5h3M644 589.5h3M647 590.5h4M651 591.5h4M655 592.5h4M659 593.5h5M664 594.5h6M670 595.5h4M674 596.5h3M677 597.5h3M680 598.5h3M683 599.5h2M685 600.5h2M687 601.5h2M689 602.5h2M691 603.5h1M692 604.5h2M694 605.5h2M696 606.5h2M698 607.5h3M701 608.5h3M704 609.5h3M707 610.5h3M710 611.5h3M713 612.5h3M716 613.5h3M719 614.5h3M722 615.5h3M725 616.5h3M728 617.5h3M731 618.5h3M734 619.5h3M737 620.5h3M740 621.5h3M743 622.5h20M763 623.5h7M770 624.5h2M772 625.5h2M774 626.5h2M776 627.5h2M778 628.5h2M780 629.5h2M782 630.5h3M785 631.5h3M788 632.5h3M791 633.5h44M835 632.5h9M844 631.5h6M850 630.5h6M856 629.5h6M862 628.5h6M868 627.5h6M874 626.5h6M880 625.5h6M886 624.5h6M892 623.5h6M898 622.5h6M904 621.5h6M910 620.5h6M916 621.5h6M922 622.5h5M927 623.5h4M931 624.5h4M935 625.5h3M938 626.5h2M940 627.5h3M943 628.5h2M945 629.5h2M947 630.5h5M952 631.5h6M958 632.5h9M967 631.5h9M976 630.5h6M982 629.5h9M991 628.5h36M1027 629.5h9M1036 628.5h6M1042 627.5h9M1051 626.5h6M1057 625.5h1M1058 624.5h2M1060 623.5h1M1061 622.5h1M1062 621.5h1M1063 620.5h1M1064 619.5h2M1066 618.5h1M1067 617.5h1M1068 616.5h1M1069 615.5h1M1070 614.5h2M1072 613.5h1M1073 612.5h1M1074 611.5h1M1075 610.5h1M1076 609.5h2M1078 608.5h1M1079 607.5h1M1080 606.5h1M1081 605.5h2M1083 604.5h1M1084 603.5h1M1085 602.5h2M1087 601.5h1M1088 600.5h1M1089 599.5h2M1091 598.5h1M1092 597.5h1M1093 596.5h2M1095 595.5h2M1097 594.5h2M1099 593.5h1M1100 592.5h2M1102 591.5h2M1104 590.5h2M1106 589.5h2M1108 588.5h3M1111 587.5h2M1113 586.5h2M1115 585.5h3M1118 584.5h3M1121 583.5h3M1124 582.5h3M1127 581.5h3M1130 580.5h2M1132 579.5h2M1134 578.5h2M1136 577.5h2M1138 576.5h2M1140 575.5h2M1142 574.5h2M1144 573.5h2M1146 572.5h2M1148 571.5h2M1150 570.5h2M1152 569.5h4M1156 568.5h6M1162 567.5h5M1167 566.5h4M1171 565.5h4M1175 564.5h8M1183 563.5h9M1192 564.5h6M1198 565.5h9M1207 564.5h12M1219 563.5h33M1252 564.5h6M1258 565.5h5M1263 566.5h4M1267 567.5h4M1271 568.5h5M1276 569.5h6M1282 570.5h9M1291 571.5h9M1300 572.5h6M1306 573.5h9M1315 572.5h21M1336 573.5h6M1342 574.5h6M1348 573.5h6M1354 572.5h9M1363 571.5h12M1375 570.5h12M1387 571.5h24M1411 570.5h12M1423 569.5h8M1431 570.5h4M1435 571.5h4M1439 572.5h17M1456 573.5h6M1462 574.5h4M1466 575.5h2M1468 576.5h3M1471 577.5h2M1473 578.5h2M1475 579.5h2M1477 580.5h2M1479 581.5h2M1481 582.5h2M1483 583.5h1M1484 584.5h2M1486 585.5h2M1488 586.5h2M1490 587.5h3M1493 588.5h3M1496 589.5h3M1499 590.5h3M1502 591.5h3M1505 592.5h3M1508 593.5h3M1511 594.5h3M1514 595.5h2M1516 596.5h2M1518 597.5h2M1520 598.5h2M1522 599.5h2M1524 600.5h3M1527 601.5h4M1531 602.5h4M1535 603.5h5M1540 604.5h6M1546 605.5h5M1551 606.5h4M1555 607.5h4M1559 608.5h2" fill="none" stroke="#f0f0f0" stroke-width="1" shape-rendering="crispEdges"/>
<path d="M96 578.5h7M103 577.5h36M139 578.5h9M148 579.5h6M154 580.5h6M160 581.5h6M166 582.5h6M172 583.5h6M178 584.5h6M184 585.5h6M190 586.5h6M196 587.5h6M202 588.5h9M211 589.5h12M223 590.5h33M256 591.5h6M262 592.5h9M271 593.5h9M280 594.5h6M286 595.5h9M295 596.5h24M319 597.5h12M331 596.5h24M355 595.5h12M367 594.5h9M376 593.5h6M382 592.5h9M391 591.5h12M403 590.5h8M411 589.5h4M415 588.5h4M419 587.5h4M423 586.5h4M427 585.5h4M431 584.5h3M434 583.5h3M437 582.5h3M440 581.5h3M443 580.5h5M448 579.5h6M454 578.5h5M459 577.5h4M463 576.5h4M467 575.5h8M475 574.5h8M483 573.5h4M487 572.5h4M491 571.5h3M494 570.5h3M497 569.5h3M500 568.5h3M503 567.5h4M507 566.5h4M511 565.5h4M515 564.5h5M520 563.5h6M526 562.5h4M530 561.5h3M533 560.5h3M536 559.5h3M539 558.5h8M547 557.5h12M559 556.5h24M583 557.5h12M595 558.5h7M602 559.5h3M605 560.5h3M608 561.5h3M611 562.5h3M614 563.5h3M617 564.5h3M620 565.5h3M623 566.5h3M626 567.5h3M629 568.5h3M632 569.5h3M635 570.5h3M638 571.5h3M641 572.5h3M644 573.5h3M647 574.5h3M650 575.5h3M653 576.5h3M656 577.5h3M659 578.5h3M662 579.5h3M665 580.5h3M668 581.5h3M671 582.5h3M674 583.5h3M677 584.5h3M680 585.5h3M683 586.5h3M686 587.5h3M689 588.5h3M692 589.5h3M695 590.5h3M698 591.5h3M701 592.5h3M704 593.5h3M707 594.5h3M710 595.5h3M713 596.5h3M716 597.5h3M719 598.5h3M722 599.5h3M725 600.5h3M728 601.5h3M731 602.5h3M734 603.5h3M737 604.5h3M740 605.5h3M743 606.5h4M747 607.5h4M751 608.5h4M755 609.5h4M759 610.5h4M763 611.5h4M767 612.5h4M771 613.5h4M775 614.5h4M779 615.5h4M783 616.5h4M787 617.5h4M791 618.5h3M794 619.5h3M797 620.5h3M800 621.5h3M803 622.5h4M807 623.5h4M811 624.5h4M815 625.5h8M823 626.5h9M832 627.5h6M838 628.5h45M883 627.5h12M895 626.5h12M907 625.5h36M943 626.5h12M955 627.5h12M967 628.5h92M1059 627.5h4M1063 626.5h4M1067 625.5h4M1071 624.5h4M1075 623.5h4M1079 622.5h3M1082 621.5h2M1084 620.5h2M1086 619.5h2M1088 618.5h2M1090 617.5h2M1092 616.5h2M1094 615.5h2M1096 614.5h3M1099 613.5h2M1101 612.5h2M1103 611.5h3M1106 610.5h2M1108 609.5h2M1110 608.5h2M1112 607.5h2M1114 606.5h2M1116 605.5h2M1118 604.5h3M1121 603.5h3M1124 602.5h3M1127 601.5h3M1130 600.5h2M1132 599.5h3M1135 598.5h2M1137 597.5h2M1139 596.5h3M1142 595.5h2M1144 594.5h2M1146 593.5h2M1148 592.5h2M1150 591.5h2M1152 590.5h2M1154 589.5h3M1157 588.5h3M1160 587.5h3M1163 586.5h3M1166 585.5h2M1168 584.5h3M1171 583.5h2M1173 582.5h2M1175 581.5h4M1179 580.5h4M1183 579.5h4M1187 578.5h4M1191 577.5h4M1195 576.5h4M1199 575.5h4M1203 574.5h4M1207 573.5h4M1211 572.5h5M1216 571.5h6M1222 570.5h9M1231 569.5h9M1240 568.5h6M1246 567.5h21M1267 568.5h24M1291 569.5h12M1303 570.5h36M1339 571.5h84M1423 570.5h36M1459 571.5h9M1468 572.5h6M1474 573.5h5M1479 574.5h4M1483 575.5h4M1487 576.5h4M1491 577.5h4M1495 578.5h4M1499 579.5h4M1503 580.5h4M1507 581.5h4M1511 582.5h3M1514 583.5h3M1517 584.5h3M1520 585.5h3M1523 586.5h4M1527 587.5h4M1531 588.5h4M1535 589.5h4M1539 590.5h4M1543 591.5h4M1547 592.5h4M1551 593.5h4M1555 594.5h4M1559 595.5h2" fill="none" stroke="#e6e61e" stroke-width="1" shape-rendering="crispEdges"/>
<g shape-rendering="crispEdges">
<rect x="96" y="594" width="1" height="3" fill="#ff3250"/>
<rect x="108" y="593" width="1" height="4" fill="#ff3250"/>
<rect x="120" y="592" width="1" height="5" fill="#ff3250"/>
<rect x="132" y="596" width="1" height="2" fill="#3ac882"/>
<rect x="144" y="596" width="1" height="11" fill="#3ac882"/>
<rect x="156" y="596" width="1" height="17" fill="#3ac882"/>
<rect x="168" y="596" width="1" height="19" fill="#3ac882"/>
<rect x="180" y="596" width="1" height="17" fill="#3ac882"/>
<rect x="192" y="596" width="1" height="15" fill="#3ac882"/>
<rect x="204" y="596" width="1" height="17" fill="#3ac882"/>
<rect x="216" y="596" width="1" height="9" fill="#3ac882"/>
<rect x="228" y="596" width="1" height="6" fill="#3ac882"/>
<rect x="240" y="596" width="1" height="5" fill="#3ac882"/>
<rect x="252" y="596" width="1" height="6" fill="#3ac882"/>
<rect x="264" y="596" width="1" height="10" fill="#3ac882"/>
<rect x="276" y="596" width="1" height="14" fill="#3ac882"/>
<rect x="288" y="596" width="1" height="11" fill="#3ac882"/>
<rect x="300" y="596" width="1" height="8" fill="#3ac882"/>
<rect x="312" y="596" width="1" height="5" fill="#3ac882"/>
<rect x="324" y="596" width="1" height="5" fill="#3ac882"/>
<rect x="336" y="595" width="1" height="2" fill="#ff3250"/>
<rect x="348" y="591" width="1" height="6" fill="#ff3250"/>
<rect x="360" y="589" width="1" height="8" fill="#ff3250"/>
<rect x="372" y="589" width="1" height="8" fill="#ff3250"/>
<rect x="384" y="588" width="1" height="9" fill="#ff3250"/>
<rect x="396" y="584" width="1" height="13" fill="#ff3250"/>
<rect x="408" y="583" width="1" height="14" fill="#ff3250"/>
<rect x="420" y="577" width="1" height="20" fill="#ff3250"/>
<rect x="432" y="573" width="1" height="24" fill="#ff3250"/>
<rect x="444" y="570" width="1" height="27" fill="#ff3250"/>
<rect x="456" y="574" width="1" height="23" fill="#ff3250"/>
<rect x="468" y="578" width="1" height="19" fill="#ff3250"/>
<rect x="480" y="581" width="1" height="16" fill="#ff3250"/>
<rect x="492" y="577" width="1" height="20" fill="#ff3250"/>
<rect x="504" y="571" width="1" height="26" fill="#ff3250"/>
<rect x="516" y="568" width="1" height="29" fill="#ff3250"/>
<rect x="528" y="572" width="1" height="25" fill="#ff3250"/>
<rect x="540" y="576" width="1" height="21" fill="#ff3250"/>
<rect x="552" y="577" width="1" height="20" fill="#ff3250"/>
<rect x="564" y="585" width="1" height="12" fill="#ff3250"/>
<rect x="576" y="596" width="1" height="2" fill="#3ac882"/>
<rect x="588" y="596" width="1" height="12" fill="#3ac882"/>
<rect x="600" y="596" width="1" height="18" fill="#3ac882"/>
<rect x="612" y="596" width="1" height="24" fill="#3ac882"/>
<rect x="624" y="596" width="1" height="32" fill="#3ac882"/>
<rect x="636" y="596" width="1" height="34" fill="#3ac882"/>
<rect x="648" y="596" width="1" height="33" fill="#3ac882"/>
<rect x="660" y="596" width="1" height="32" fill="#3ac882"/>
<rect x="672" y="596" width="1" height="30" fill="#3ac882"/>
<rect x="684" y="596" width="1" height="30" fill="#3ac882"/>
<rect x="696" y="596" width="1" height="33" fill="#3ac882"/>
<rect x="708" y="596" width="1" height="33" fill="#3ac882"/>
<rect x="720" y="596" width="1" height="34" fill="#3ac882"/>
<rect x="732" y="596" width="1" height="33" fill="#3ac882"/>
<rect x="744" y="596" width="1" height="32" fill="#3ac882"/>
<rect x="756" y="596" width="1" height="26" fill="#3ac882"/>
<rect x="768" y="596" width="1" height="23" fill="#3ac882"/>
<rect x="780" y="596" width="1" height="28" fill="#3ac882"/>
<rect x="792" y="596" width="1" height="29" fill="#3ac882"/>
<rect x="804" y="596" width="1" height="26" fill="#3ac882"/>
<rect x="816" y="596" width="1" height="20" fill="#3ac882"/>
<rect x="828" y="596" width="1" height="16" fill="#3ac882"/>
<rect x="840" y="596" width="1" height="10" fill="#3ac882"/>
<rect x="852" y="596" width="1" height="8" fill="#3ac882"/>
<rect x="864" y="596" width="1" height="2" fill="#3ac882"/>
<rect x="876" y="593" width="1" height="4" fill="#ff3250"/>
<rect x="888" y="592" width="1" height="5" fill="#ff3250"/>
<rect x="900" y="590" width="1" height="7" fill="#ff3250"/>
<rect x="912" y="586" width="1" height="11" fill="#ff3250"/>
<rect x="924" y="592" width="1" height="5" fill="#ff3250"/>
<rect x="936" y="596" width="1" height="2" fill="#3ac882"/>
<rect x="948" y="596" width="1" height="11" fill="#3ac882"/>
<rect x="960" y="596" width="1" height="10" fill="#3ac882"/>
<rect x="972" y="596" width="1" height="7" fill="#3ac882"/>
<rect x="984" y="596" width="1" height="3" fill="#3ac882"/>
<rect x="996" y="595" width="1" height="2" fill="#ff3250"/>
<rect x="1008" y="595" width="1" height="2" fill="#ff3250"/>
<rect x="1020" y="596" width="1" height="2" fill="#3ac882"/>
<rect x="1032" y="596" width="1" height="3" fill="#3ac882"/>
<rect x="1044" y="595" width="1" height="2" fill="#ff3250"/>
<rect x="1056" y="593" width="1" height="4" fill="#ff3250"/>
<rect x="1068" y="577" width="1" height="20" fill="#ff3250"/>
<rect x="1080" y="567" width="1" height="30" fill="#ff3250"/>
<rect x="1092" y="557" width="1" height="40" fill="#ff3250"/>
<rect x="1104" y="555" width="1" height="42" fill="#ff3250"/>
<rect x="1116" y="555" width="1" height="42" fill="#ff3250"/>
<rect x="1128" y="556" width="1" height="41" fill="#ff3250"/>
<rect x="1140" y="552" width="1" height="45" fill="#ff3250"/>
<rect x="1152" y="554" width="1" height="43" fill="#ff3250"/>
<rect x="1164" y="558" width="1" height="39" fill="#ff3250"/>
<rect x="1176" y="561" width="1" height="36" fill="#ff3250"/>
<rect x="1188" y="566" width="1" height="31" fill="#ff3250"/>
<rect x="1200" y="576" width="1" height="21" fill="#ff3250"/>
<rect x="1212" y="579" width="1" height="18" fill="#ff3250"/>
<rect x="1224" y="581" width="1" height="16" fill="#ff3250"/>
<rect x="1236" y="583" width="1" height="14" fill="#ff3250"/>
<rect x="1248" y="587" width="1" height="10" fill="#ff3250"/>
<rect x="1260" y="591" width="1" height="6" fill="#ff3250"/>
<rect x="1272" y="596" width="1" height="2" fill="#3ac882"/>
<rect x="1284" y="596" width="1" height="5" fill="#3ac882"/>
<rect x="1296" y="596" width="1" height="5" fill="#3ac882"/>
<rect x="1308" y="596" width="1" height="8" fill="#3ac882"/>
<rect x="1320" y="596" width="1" height="5" fill="#3ac882"/>
<rect x="1332" y="596" width="1" height="6" fill="#3ac882"/>
<rect x="1344" y="596" width="1" height="6" fill="#3ac882"/>
<rect x="1356" y="596" width="1" height="3" fill="#3ac882"/>
<rect x="1368" y="596" width="1" height="2" fill="#3ac882"/>
<rect x="1380" y="594" width="1" height="3" fill="#ff3250"/>
<rect x="1392" y="596" width="1" height="2" fill="#3ac882"/>
<rect x="1404" y="596" width="1" height="1" fill="#ff3250"/>
<rect x="1416" y="594" width="1" height="3" fill="#ff3250"/>
<rect x="1428" y="593" width="1" height="4" fill="#ff3250"/>
<rect x="1440" y="596" width="1" height="3" fill="#3ac882"/>
<rect x="1452" y="596" width="1" height="3" fill="#3ac882"/>
<rect x="1464" y="596" width="1" height="8" fill="#3ac882"/>
<rect x="1476" y="596" width="1" height="12" fill="#3ac882"/>
<rect x="1488" y="596" width="1" height="21" fill="#3ac882"/>
<rect x="1500" y="596" width="1" height="25" fill="#3ac882"/>
<rect x="1512" y="596" width="1" height="26" fill="#3ac882"/>
<rect x="1524" y="596" width="1" height="31" fill="#3ac882"/>
<rect x="1536" y="596" width="1" height="30" fill="#3ac882"/>
<rect x="1548" y="596" width="1" height="27" fill="#3ac882"/>
<rect x="1560" y="596" width="1" height="26" fill="#3ac882"/>
</g>
<path d="M96 688.5h1M97 687.5h1M98 686.5h2M100 685.5h1M101 684.5h1M102 683.5h1M103 682.5h1M104 681.5h2M106 680.5h1M107 679.5h1M108 678.5h7M115 677.5h6M121 678.5h1M122 679.5h1M123.5 680v2M124 682.5h1M125 683.5h1M126 684.5h1M127 685.5h1M128 686.5h1M129.5 687v2M130 689.5h1M131 690.5h1M132 691.5h1M133 692.5h1M134 693.5h1M135 694.5h1M136 695.5h1M137 696.5h1M138.5 697v2M139 699.5h1M140 700.5h1M141 701.5h1M142 702.5h1M143 703.5h1M144 704.5h4M148 705.5h6M154 706.5h4M158 705.5h2M160 704.5h3M163 703.5h2M165 702.5h2M167 701.5h3M170 700.5h2M172 699.5h3M175 698.5h2M177 697.5h2M179 696.5h8M187 695.5h6M193 696.5h2M195 697.5h1M196 698.5h1M197 699.5h2M199 700.5h1M200 701.5h1M201 702.5h2M203 703.5h1M204 704.5h1M205.5 702v2M206 701.5h1M207.5 699v2M208 698.5h1M209.5 696v2M210 695.5h1M211.5 693v2M212 692.5h1M213.5 690v2M214 689.5h1M215.5 687v2M216 686.5h2M218 687.5h2M220 688.5h3M223 689.5h2M225 690.5h2M227 691.5h5M232 692.5h6M238 693.5h5M243 694.5h4M247 695.5h4M251 696.5h2M253 697.5h2M255 698.5h1M256 699.5h2M258 700.5h1M259 701.5h2M261 702.5h1M262 703.5h2M264 704.5h2M266 705.5h3M269 706.5h3M272 707.5h3M275 708.5h2M277 707.5h1M278 706.5h1M279 705.5h1M280 704.5h1M281 703.5h1M282 702.5h1M283 701.5h1M284 700.5h1M285 699.5h1M286 698.5h1M287 697.5h1M288 696.5h7M295 695.5h20M315 696.5h4M319 697.5h4M323 698.5h2M325 697.5h1M326 696.5h1M327 695.5h1M328 694.5h1M329 693.5h1M330 692.5h1M331 691.5h1M332 690.5h1M333 689.5h1M334 688.5h1M335 687.5h1M336 686.5h7M343 685.5h9M352 686.5h6M358 687.5h9M367 688.5h8M375 687.5h4M379 686.5h4M383 685.5h3M386 684.5h2M388 683.5h2M390 682.5h2M392 681.5h2M394 680.5h2M396 679.5h13M409 678.5h1M410 677.5h1M411 676.5h1M412 675.5h1M413 674.5h2M415 673.5h1M416 672.5h1M417 671.5h1M418 670.5h1M419 669.5h1M420 668.5h4M424 667.5h6M430 666.5h6M436 665.5h6M442 664.5h3M445 665.5h1M446 666.5h1M447 667.5h1M448 668.5h1M449 669.5h2M451 670.5h1M452 671.5h1M453 672.5h1M454 673.5h1M455 674.5h1M456 675.5h25M481 674.5h1M482 673.5h1M483 672.5h1M484 671.5h1M485 670.5h1M486.5 668v2M487 667.5h1M488 666.5h1M489 665.5h1M490 664.5h1M491 663.5h1M492 662.5h2M494 661.5h2M496 660.5h3M499 659.5h2M501 658.5h2M503 657.5h14M517 658.5h2M519 659.5h1M520 660.5h1M521 661.5h2M523 662.5h1M524 663.5h1M525 664.5h2M527 665.5h1M528 666.5h7M535 667.5h7M542 666.5h3M545 665.5h3M548 664.5h3M551 663.5h2M553 664.5h1M554.5 665v2M555 667.5h1M556 668.5h1M557 669.5h1M558.5 670v2M559 672.5h1M560 673.5h1M561 674.5h1M562.5 675v2M563 677.5h1M564 678.5h1M565 679.5h1M566 680.5h1M567.5 681v2M568 683.5h1M569 684.5h1M570 685.5h1M571 686.5h1M572 687.5h1M573.5 688v2M574 690.5h1M575 691.5h1M576 692.5h4M580 693.5h6M586 694.5h16M602 695.5h2M604 696.5h2M606 697.5h2M608 698.5h2M610 699.5h2M612 700.5h1M613 701.5h2M615 702.5h1M616 703.5h2M618 704.5h1M619 705.5h2M621 706.5h1M622 707.5h2M624 708.5h4M628 707.5h6M634 706.5h6M640 705.5h6M646 704.5h9M655 705.5h9M664 704.5h6M670 703.5h4M674 704.5h2M676 705.5h2M678 706.5h2M680 707.5h2M682 708.5h2M684 709.5h2M686 710.5h2M688 711.5h2M690 712.5h2M692 713.5h2M694 714.5h2M696 715.5h4M700 716.5h6M706 717.5h4M710 718.5h3M713 719.5h3M716 720.5h3M719 721.5h8M727 720.5h8M735 721.5h4M739 722.5h4M743 723.5h2M745 722.5h1M746 721.5h1M747 720.5h1M748 719.5h1M749 718.5h2M751 717.5h1M752 716.5h1M753 715.5h1M754 714.5h1M755 713.5h1M756 712.5h4M760 713.5h6M766 714.5h3M769 715.5h1M770 716.5h1M771.5 717v2M772 719.5h1M773 720.5h1M774 721.5h1M775 722.5h1M776 723.5h1M777.5 724v2M778 726.5h1M779 727.5h1M780 728.5h2M782 727.5h2M784 726.5h2M786 725.5h2M788 724.5h2M790 723.5h2M792 722.5h3M795 721.5h4M799 720.5h4M803 719.5h4M807 718.5h4M811 717.5h4M815 716.5h8M823 715.5h7M830 714.5h3M833 713.5h3M836 712.5h3M839 711.5h3M842 712.5h3M845 713.5h3M848 714.5h3M851 715.5h2M853 714.5h2M855 713.5h1M856 712.5h1M857 711.5h2M859 710.5h1M860 709.5h1M861 708.5h2M863 707.5h1M864 706.5h7M871 707.5h9M880 708.5h6M886 709.5h6M892 708.5h6M898 707.5h4M902 706.5h2M904 705.5h3M907 704.5h2M909 703.5h2M911 702.5h2M913.5 703v2M914 705.5h1M915 706.5h1M916.5 707v2M917 709.5h1M918 710.5h1M919.5 711v2M920 713.5h1M921 714.5h1M922.5 715v2M923 717.5h1M924 718.5h7M931 719.5h6M937 720.5h2M939 721.5h1M940 722.5h1M941 723.5h2M943 724.5h1M944 725.5h1M945 726.5h2M947 727.5h1M948 728.5h1M949 727.5h1M950 726.5h1M951.5 724v2M952 723.5h1M953 722.5h1M954 721.5h1M955 720.5h1M956 719.5h1M957.5 717v2M958 716.5h1M959 715.5h1M960 714.5h2M962 713.5h3M965 712.5h3M968 711.5h3M971 710.5h3M974 709.5h3M977 708.5h3M980 707.5h3M983 706.5h5M988 707.5h6M994 708.5h5M999 709.5h4M1003 710.5h4M1007 711.5h4M1011 712.5h4M1015 713.5h4M1019 714.5h4M1023 715.5h4M1027 716.5h4M1031 717.5h2M1033 716.5h1M1034 715.5h2M1036 714.5h1M1037 713.5h1M1038 712.5h1M1039 711.5h1M1040 710.5h2M1042 709.5h1M1043 708.5h1M1044 707.5h7M1051 708.5h5M1056.5 707v2M1057.5 705v2M1058.5 703v2M1059.5 701v2M1060.5 699v2M1061.5 697v2M1062.5 694v3M1063.5 692v2M1064.5 690v2M1065.5 688v2M1066.5 686v2M1067.5 684v2M1068.5 682v2M1069 682.5h2M1071 681.5h4M1075 680.5h4M1079 679.5h3M1082 678.5h2M1084 677.5h3M1087 676.5h2M1089 675.5h2M1091 674.5h3M1094 675.5h2M1096 676.5h2M1098 677.5h2M1100 678.5h2M1102 679.5h2M1104 680.5h4M1108 679.5h6M1114 678.5h15M1129 677.5h2M1131 676.5h1M1132 675.5h1M1133 674.5h2M1135 673.5h1M1136 672.5h1M1137 671.5h2M1139 670.5h1M1140 669.5h2M1142 670.5h2M1144 671.5h2M1146 672.5h2M1148 673.5h2M1150 674.5h2M1152 675.5h16M1168 674.5h6M1174 673.5h5M1179 674.5h4M1183 675.5h4M1187 676.5h2M1189 677.5h1M1190 678.5h2M1192 679.5h1M1193 680.5h1M1194 681.5h1M1195 682.5h1M1196 683.5h2M1198 684.5h1M1199 685.5h1M1200 686.5h2M1202 685.5h2M1204 684.5h2M1206 683.5h2M1208 682.5h2M1210 681.5h2M1212 680.5h3M1215 679.5h4M1219 678.5h4M1223 677.5h17M1240 678.5h6M1246 679.5h5M1251 680.5h4M1255 681.5h4M1259 682.5h2M1261 683.5h1M1262 684.5h1M1263 685.5h1M1264 686.5h1M1265 687.5h2M1267 688.5h1M1268 689.5h1M1269 690.5h1M1270 691.5h1M1271 692.5h1M1272 693.5h1M1273 692.5h2M1275 691.5h2M1277 690.5h2M1279 689.5h1M1280 688.5h2M1282 687.5h2M1284 686.5h4M1288 685.5h6M1294 684.5h4M1298 685.5h3M1301 686.5h3M1304 687.5h3M1307 688.5h2M1309 687.5h2M1311 686.5h2M1313 685.5h2M1315 684.5h1M1316 683.5h2M1318 682.5h2M1320 681.5h2M1322 682.5h2M1324 683.5h3M1327 684.5h2M1329 685.5h2M1331 686.5h8M1339 685.5h7M1346 684.5h3M1349 683.5h3M1352 682.5h3M1355 681.5h3M1358 680.5h3M1361 679.5h3M1364 678.5h3M1367 677.5h5M1372 676.5h6M1378 675.5h3M1381 676.5h1M1382 677.5h2M1384 678.5h1M1385 679.5h1M1386 680.5h1M1387 681.5h1M1388 682.5h2M1390 683.5h1M1391 684.5h1M1392 685.5h2M1394 684.5h2M1396 683.5h3M1399 682.5h2M1401 681.5h2M1403 680.5h3M1406 679.5h3M1409 678.5h3M1412 677.5h3M1415 676.5h14M1429 677.5h1M1430 678.5h1M1431.5 679v2M1432 681.5h1M1433 682.5h1M1434 683.5h1M1435 684.5h1M1436 685.5h1M1437.5 686v2M1438 688.5h1M1439 689.5h1M1440 690.5h1M1441 689.5h2M1443 688.5h1M1444 687.5h2M1446 686.5h1M1447 685.5h2M1449 684.5h1M1450 683.5h2M1452 682.5h1M1453 683.5h1M1454 684.5h1M1455 685.5h1M1456 686.5h1M1457 687.5h1M1458.5 688v2M1459 690.5h1M1460 691.5h1M1461 692.5h1M1462 693.5h1M1463 694.5h1M1464 695.5h13M1477 696.5h1M1478 697.5h1M1479 698.5h1M1480 699.5h1M1481 700.5h1M1482.5 701v2M1483 703.5h1M1484 704.5h1M1485 705.5h1M1486 706.5h1M1487 707.5h1M1488 708.5h3M1491 707.5h4M1495 706.5h4M1499 705.5h14M1513 706.5h2M1515 707.5h2M1517 708.5h2M1519 709.5h1M1520 710.5h2M1522 711.5h2M1524 712.5h2M1526 711.5h2M1528 710.5h3M1531 709.5h2M1533 708.5h2M1535 707.5h4M1539 706.5h4M1543 705.5h4M1547 704.5h3M1550 705.5h2M1552 706.5h3M1555 707.5h2M1557 708.5h2M1559 709.5h2" fill="none" stroke="#f020f0" stroke-width="1" shape-rendering="crispEdges"/>
<text class="t" x="92.5" y="14" fill="#f0f0f0" textLength="47.5" lengthAdjust="spacingAndGlyphs">现货黄金</text>
<text class="t" x="141" y="14" fill="#f0b040" textLength="56" lengthAdjust="spacingAndGlyphs">【240分】</text>
<text class="t" x="229" y="14" fill="#f0f0f0" textLength="131" lengthAdjust="spacingAndGlyphs">MA1(10,20,50,100,200)</text>
<text class="t" x="365" y="14" fill="#f0f0f0" textLength="81" lengthAdjust="spacingAndGlyphs">MA10:3361.26</text>
<text class="t" x="455" y="14" fill="#d2d21e" textLength="81" lengthAdjust="spacingAndGlyphs">MA20:3374.84</text>
<text class="t" x="545" y="14" fill="#e020e0" textLength="81" lengthAdjust="spacingAndGlyphs">MA50:3359.35</text>
<text class="t" x="634.5" y="14" fill="#1ed41e" textLength="88" lengthAdjust="spacingAndGlyphs">MA100:3358.37</text>
<text class="t" x="731.5" y="14" fill="#8c8c8c" textLength="88" lengthAdjust="spacingAndGlyphs">MA200:3343.37</text>
<g fill="none" stroke="#f0b040" stroke-width="0.9"><circle cx="202" cy="11.5" r="3.9"/><path d="M198 11.5h8M202 7.5v8"/></g>
<g shape-rendering="crispEdges"><rect x="216" y="3" width="11" height="12" fill="#808080"/><rect x="215.5" y="1.5" width="10" height="12" fill="#fff" stroke="#00008c"/></g>
<polyline points="216.5,9.5 219,5.5 221.5,8 223.5,6 225,6" fill="none" stroke="#ff1010" stroke-width="1.2"/>
<polyline points="216.5,12.5 219,8.5 221.5,11 223.5,9 225,9" fill="none" stroke="#1010ff" stroke-width="1.2"/>
<text class="t" x="92.5" y="540" fill="#f0f0f0" textLength="85.5" lengthAdjust="spacingAndGlyphs">MACD(26,12,9)</text>
<text class="t" x="183" y="540" fill="#f0f0f0" textLength="56.5" lengthAdjust="spacingAndGlyphs">DIFF:-5.14</text>
<text class="t" x="247.5" y="540" fill="#d2d21e" textLength="50" lengthAdjust="spacingAndGlyphs">DEA:0.38</text>
<text class="t" x="306.5" y="540" fill="#e020e0" textLength="75.5" lengthAdjust="spacingAndGlyphs">MACD:-11.04</text>
<text class="t" x="92.5" y="649" fill="#f0f0f0" textLength="74" lengthAdjust="spacingAndGlyphs">RSI(14,14,14)</text>
<text class="t" x="171.5" y="649" fill="#f0f0f0" textLength="59" lengthAdjust="spacingAndGlyphs">RSI1:40.63</text>
<text class="t" x="239" y="649" fill="#d2d21e" textLength="59.5" lengthAdjust="spacingAndGlyphs">RSI2:40.63</text>
<text class="t" x="307.5" y="649" fill="#e020e0" textLength="59" lengthAdjust="spacingAndGlyphs">RSI3:40.63</text>
<g shape-rendering="crispEdges">
<rect x="25" y="638" width="8" height="8" fill="#000"/>
<rect x="27" y="639" width="4" height="6" fill="#fff"/><rect x="26" y="640" width="6" height="4" fill="#fff"/>
<rect x="28" y="640" width="2" height="4" fill="#f00"/><rect x="27" y="641" width="4" height="2" fill="#f00"/>
<rect x="28" y="635" width="1" height="2" fill="#f00"/>
<rect x="28" y="647" width="1" height="2" fill="#f00"/>
<rect x="22" y="641" width="2" height="1" fill="#f00"/>
<rect x="34" y="641" width="2" height="1" fill="#f00"/>
<rect x="23" y="636" width="1" height="1" fill="#f00"/>
<rect x="24" y="637" width="1" height="1" fill="#f00"/>
<rect x="34" y="636" width="1" height="1" fill="#f00"/>
<rect x="33" y="637" width="1" height="1" fill="#f00"/>
<rect x="23" y="647" width="1" height="1" fill="#f00"/>
<rect x="24" y="646" width="1" height="1" fill="#f00"/>
<rect x="34" y="647" width="1" height="1" fill="#f00"/>
<rect x="33" y="646" width="1" height="1" fill="#f00"/>
</g>
<g shape-rendering="crispEdges" fill="none" stroke="#a8a8a8">
<rect x="1533.5" y="1.5" width="13" height="13" fill="#000"/>
<rect x="1549.5" y="1.5" width="13" height="13" fill="#000"/>
<rect x="1565.5" y="1.5" width="13" height="13" fill="#000"/>
<rect x="1581.5" y="1.5" width="13" height="13" fill="#000"/>
</g>
<g shape-rendering="crispEdges" fill="#a8a8a8">
<rect x="1539" y="7" width="2" height="2"/>
<rect x="1539" y="3" width="2" height="3"/>
<rect x="1539" y="10" width="2" height="3"/>
<rect x="1535" y="7" width="3" height="2"/>
<rect x="1542" y="7" width="3" height="2"/>
<rect x="1552" y="4" width="1" height="9"/><rect x="1551" y="11" width="10" height="1"/>
<rect x="1551" y="5" width="3" height="1"/><rect x="1559" y="10" width="1" height="3"/>
<rect x="1568" y="4" width="1" height="9"/><rect x="1567" y="11" width="10" height="1"/>
<rect x="1567" y="5" width="3" height="1"/><rect x="1575" y="10" width="1" height="3"/>
<rect x="1555" y="4" width="1" height="6"/>
<rect x="1583" y="4" width="1" height="9"/><rect x="1585" y="4" width="1" height="9"/><rect x="1583" y="4" width="3" height="1"/><rect x="1583" y="12" width="3" height="1"/><rect x="1585" y="7" width="6" height="1"/>
</g>
<path d="M1559 4.5v5l-2.5-2.5zM1571 4.5l4.5 3l-4.5 3zM1589 4.5l3.5 3l-3.5 3z" fill="#a8a8a8"/>
<rect x="20.5" y="729.5" width="69" height="19" fill="#080808" stroke="#262626" shape-rendering="crispEdges"/>
<text class="b" x="30.2" y="744" fill="#ffb43c" textLength="33" lengthAdjust="spacingAndGlyphs">240分</text>
<path d="M68.7 744.4l4.3-8.4l4.3 8.4z" fill="#ffb43c"/>
<text class="b" x="146.5" y="742" fill="#a4acb8">07/16</text>
<text class="b" x="290.5" y="742" fill="#a4acb8">07/18</text>
<text class="b" x="434.5" y="742" fill="#a4acb8">07/22</text>
<text class="b" x="578.5" y="742" fill="#a4acb8">07/24</text>
<text class="b" x="722.5" y="742" fill="#a4acb8">07/26</text>
<text class="b" x="866.5" y="742" fill="#a4acb8">07/30</text>
<text class="b" x="1010.5" y="742" fill="#a4acb8">08/01</text>
<text class="b" x="1154.5" y="742" fill="#a4acb8">08/05</text>
<text class="b" x="1298.5" y="742" fill="#a4acb8">08/07</text>
<text class="b" x="1442.5" y="742" fill="#a4acb8">08/09</text>
<rect x="869" y="729" width="164" height="17" fill="#000"/>
<rect x="857" y="746" width="170" height="1" fill="#303030"/>
<rect x="1664" y="559" width="2" height="17" fill="#2a2a2a"/>
<text x="1537.5" y="739.5" fill="#f2f4f8" style="font:29.3px 'Liberation Sans',sans-serif;letter-spacing:3.1px">FX678</text>
</svg>
<div class="tb" style="left:20px;width:39px;color:#fff;background:#474957;"><span>指标</span></div>
<div class="tb" style="left:59px;width:41px;color:#c8c8c8;"><span>模板</span></div>
<div class="tb" style="left:100px;width:58px;color:#ffb43c;"><span class="l">VIP</span><span>指标</span></div>
<div class="tb" style="left:158px;width:28px;color:#c8c8c8;"><span class="l">MA</span></div>
<div class="tb" style="left:186px;width:40px;color:#c8c8c8;"><span class="l">MACD</span></div>
<div class="tb" style="left:226px;width:41px;color:#c8c8c8;"><span class="l">BOLL</span></div>
<div class="tb" style="left:267px;width:33px;color:#c8c8c8;"><span class="l">VOL</span></div>
<div class="tb" style="left:300px;width:41px;color:#c8c8c8;"><span class="l">BIAS</span></div>
<div class="tb" style="left:341px;width:33px;color:#c8c8c8;"><span class="l">CCI</span></div>
<div class="tb" style="left:374px;width:35px;color:#c8c8c8;"><span class="l">KDJ</span></div>
<div class="tb" style="left:409px;width:38px;color:#c8c8c8;"><span class="l">LW&amp;</span></div>
<div class="tb" style="left:447px;width:36px;color:#c8c8c8;"><span class="l">RSI</span></div>
<div class="tb" style="left:483px;width:28px;color:#c8c8c8;"><span class="l">CR</span></div>
<div class="tb" style="left:511px;width:33px;color:#c8c8c8;"><span class="l">PSY</span></div>
<div class="tb" style="left:544px;width:40px;color:#c8c8c8;"><span>设置</span></div>
</body></html>
